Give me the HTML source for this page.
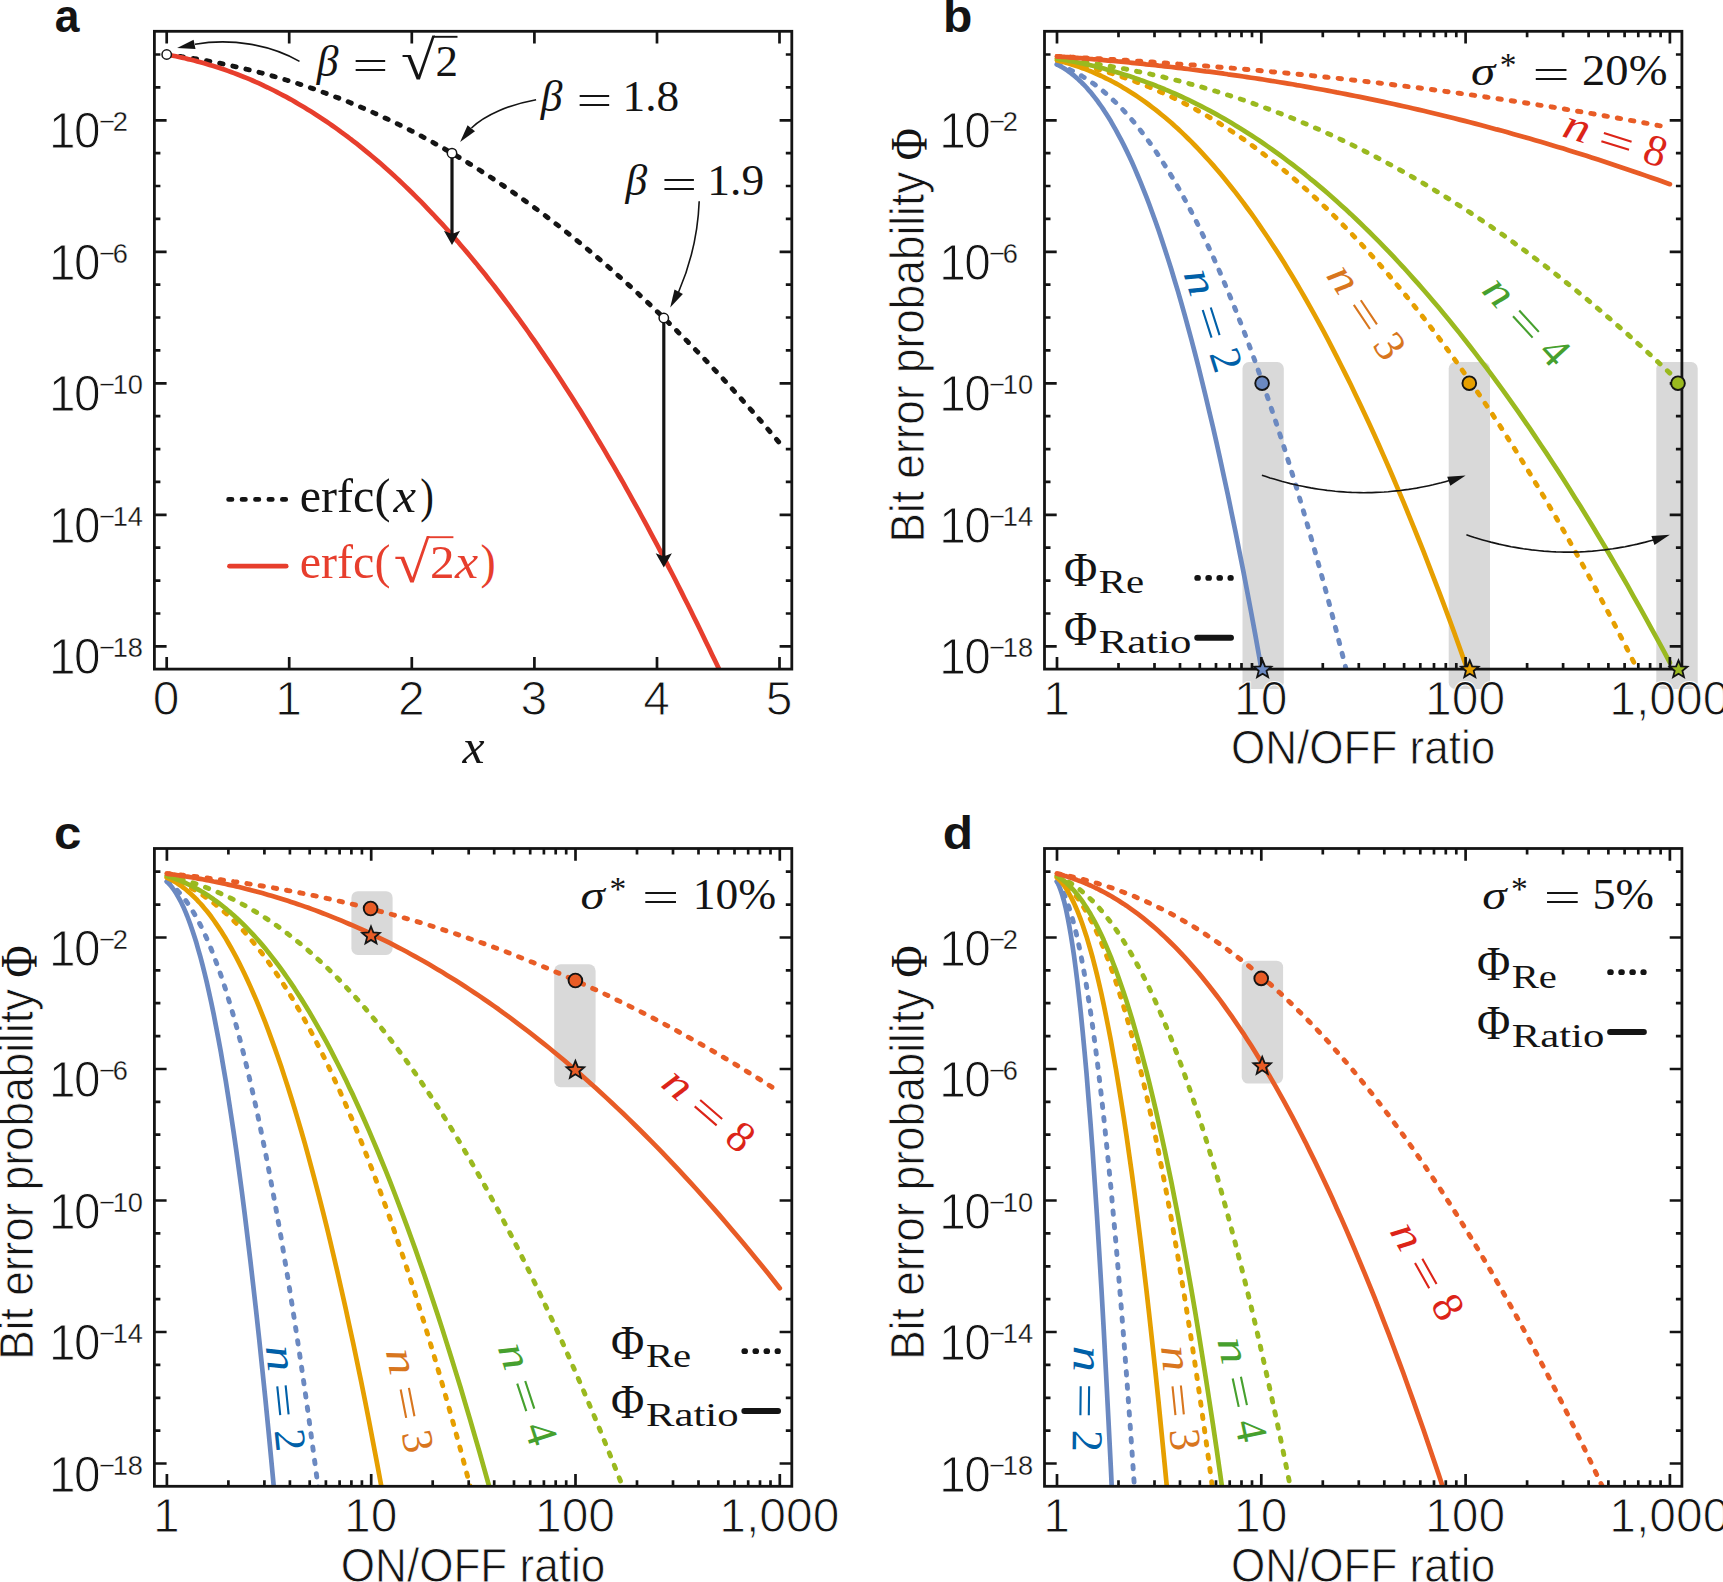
<!DOCTYPE html>
<html lang="en"><head><meta charset="utf-8"><title>Figure</title>
<style>html,body{margin:0;padding:0;background:#fff}svg{display:block}text{white-space:pre;font-kerning:none}</style>
</head><body>
<svg width="1723" height="1582" viewBox="0 0 1723 1582">
<defs>
<clipPath id="clipa"><rect x="154.4" y="31.3" width="637.4" height="637.8"/></clipPath>
<clipPath id="clipb"><rect x="1044.5" y="31.3" width="637.4" height="637.8"/></clipPath>
<clipPath id="clipc"><rect x="154.4" y="848.5" width="637.4" height="637.8"/></clipPath>
<clipPath id="clipd"><rect x="1044.5" y="848.5" width="637.4" height="637.8"/></clipPath>
</defs>
<rect width="1723" height="1582" fill="#ffffff"/>
<g clip-path="url(#clipa)" fill="none" stroke-width="4.7">
<path d="M166.7,54.5 L169.7,54.9 L172.8,55.3 L175.9,55.8 L178.9,56.2 L182,56.7 L185,57.1 L188.1,57.6 L191.2,58.1 L194.2,58.6 L197.3,59.1 L200.4,59.6 L203.4,60.2 L206.5,60.7 L209.6,61.3 L212.6,61.9 L215.7,62.5 L218.8,63.1 L221.8,63.7 L224.9,64.3 L227.9,65 L231,65.7 L234.1,66.3 L237.1,67 L240.2,67.7 L243.3,68.4 L246.3,69.2 L249.4,69.9 L252.5,70.7 L255.5,71.4 L258.6,72.2 L261.7,73 L264.7,73.9 L267.8,74.7 L270.8,75.5 L273.9,76.4 L277,77.3 L280,78.2 L283.1,79.1 L286.2,80 L289.2,80.9 L292.3,81.9 L295.4,82.8 L298.4,83.8 L301.5,84.8 L304.6,85.8 L307.6,86.8 L310.7,87.9 L313.8,88.9 L316.8,90 L319.9,91.1 L322.9,92.2 L326,93.3 L329.1,94.4 L332.1,95.6 L335.2,96.8 L338.3,97.9 L341.3,99.1 L344.4,100.4 L347.5,101.6 L350.5,102.8 L353.6,104.1 L356.7,105.4 L359.7,106.7 L362.8,108 L365.8,109.3 L368.9,110.6 L372,112 L375,113.4 L378.1,114.8 L381.2,116.2 L384.2,117.6 L387.3,119 L390.4,120.5 L393.4,121.9 L396.5,123.4 L399.6,124.9 L402.6,126.5 L405.7,128 L408.7,129.5 L411.8,131.1 L414.9,132.7 L417.9,134.3 L421,135.9 L424.1,137.6 L427.1,139.2 L430.2,140.9 L433.3,142.6 L436.3,144.3 L439.4,146 L442.5,147.7 L445.5,149.5 L448.6,151.2 L451.6,153 L454.7,154.8 L457.8,156.6 L460.8,158.5 L463.9,160.3 L467,162.2 L470,164.1 L473.1,166 L476.2,167.9 L479.2,169.8 L482.3,171.8 L485.4,173.8 L488.4,175.7 L491.5,177.7 L494.6,179.8 L497.6,181.8 L500.7,183.9 L503.7,185.9 L506.8,188 L509.9,190.1 L512.9,192.2 L516,194.4 L519.1,196.5 L522.1,198.7 L525.2,200.9 L528.3,203.1 L531.3,205.3 L534.4,207.6 L537.5,209.8 L540.5,212.1 L543.6,214.4 L546.6,216.7 L549.7,219 L552.8,221.4 L555.8,223.8 L558.9,226.1 L562,228.5 L565,230.9 L568.1,233.4 L571.2,235.8 L574.2,238.3 L577.3,240.8 L580.4,243.3 L583.4,245.8 L586.5,248.3 L589.5,250.9 L592.6,253.4 L595.7,256 L598.7,258.6 L601.8,261.2 L604.9,263.9 L607.9,266.5 L611,269.2 L614.1,271.9 L617.1,274.6 L620.2,277.3 L623.3,280.1 L626.3,282.8 L629.4,285.6 L632.4,288.4 L635.5,291.2 L638.6,294 L641.6,296.9 L644.7,299.7 L647.8,302.6 L650.8,305.5 L653.9,308.4 L657,311.4 L660,314.3 L663.1,317.3 L666.2,320.3 L669.2,323.3 L672.3,326.3 L675.4,329.3 L678.4,332.4 L681.5,335.4 L684.5,338.5 L687.6,341.6 L690.7,344.8 L693.7,347.9 L696.8,351.1 L699.9,354.2 L702.9,357.4 L706,360.6 L709.1,363.9 L712.1,367.1 L715.2,370.4 L718.3,373.6 L721.3,376.9 L724.4,380.3 L727.4,383.6 L730.5,386.9 L733.6,390.3 L736.6,393.7 L739.7,397.1 L742.8,400.5 L745.8,404 L748.9,407.4 L752,410.9 L755,414.4 L758.1,417.9 L761.2,421.4 L764.2,424.9 L767.3,428.5 L770.3,432.1 L773.4,435.7 L776.5,439.3 L779.5,442.9" stroke="#141414" stroke-width="4.9" stroke-dasharray="3.4 10.03" stroke-linecap="round"/>
<path d="M166.7,54.5 L169.7,55.1 L172.8,55.7 L175.9,56.3 L178.9,57 L182,57.6 L185,58.3 L188.1,59.1 L191.2,59.8 L194.2,60.6 L197.3,61.4 L200.4,62.2 L203.4,63.1 L206.5,64 L209.6,64.9 L212.6,65.8 L215.7,66.8 L218.8,67.8 L221.8,68.8 L224.9,69.8 L227.9,70.9 L231,72 L234.1,73.1 L237.1,74.3 L240.2,75.5 L243.3,76.7 L246.3,77.9 L249.4,79.2 L252.5,80.5 L255.5,81.9 L258.6,83.2 L261.7,84.6 L264.7,86.1 L267.8,87.5 L270.8,89 L273.9,90.5 L277,92.1 L280,93.7 L283.1,95.3 L286.2,96.9 L289.2,98.6 L292.3,100.3 L295.4,102.1 L298.4,103.9 L301.5,105.7 L304.6,107.5 L307.6,109.4 L310.7,111.3 L313.8,113.2 L316.8,115.2 L319.9,117.2 L322.9,119.2 L326,121.3 L329.1,123.4 L332.1,125.5 L335.2,127.7 L338.3,129.8 L341.3,132.1 L344.4,134.3 L347.5,136.6 L350.5,139 L353.6,141.3 L356.7,143.7 L359.7,146.1 L362.8,148.6 L365.8,151.1 L368.9,153.6 L372,156.2 L375,158.8 L378.1,161.4 L381.2,164.1 L384.2,166.8 L387.3,169.5 L390.4,172.3 L393.4,175 L396.5,177.9 L399.6,180.7 L402.6,183.6 L405.7,186.6 L408.7,189.5 L411.8,192.5 L414.9,195.6 L417.9,198.6 L421,201.7 L424.1,204.9 L427.1,208.1 L430.2,211.3 L433.3,214.5 L436.3,217.8 L439.4,221.1 L442.5,224.4 L445.5,227.8 L448.6,231.2 L451.6,234.6 L454.7,238.1 L457.8,241.6 L460.8,245.2 L463.9,248.8 L467,252.4 L470,256 L473.1,259.7 L476.2,263.4 L479.2,267.2 L482.3,271 L485.4,274.8 L488.4,278.7 L491.5,282.6 L494.6,286.5 L497.6,290.5 L500.7,294.5 L503.7,298.5 L506.8,302.6 L509.9,306.7 L512.9,310.8 L516,315 L519.1,319.2 L522.1,323.4 L525.2,327.7 L528.3,332 L531.3,336.3 L534.4,340.7 L537.5,345.1 L540.5,349.6 L543.6,354.1 L546.6,358.6 L549.7,363.1 L552.8,367.7 L555.8,372.3 L558.9,377 L562,381.7 L565,386.4 L568.1,391.2 L571.2,396 L574.2,400.8 L577.3,405.7 L580.4,410.6 L583.4,415.5 L586.5,420.5 L589.5,425.5 L592.6,430.6 L595.7,435.6 L598.7,440.8 L601.8,445.9 L604.9,451.1 L607.9,456.3 L611,461.6 L614.1,466.8 L617.1,472.2 L620.2,477.5 L623.3,482.9 L626.3,488.4 L629.4,493.8 L632.4,499.3 L635.5,504.9 L638.6,510.4 L641.6,516 L644.7,521.7 L647.8,527.3 L650.8,533.1 L653.9,538.8 L657,544.6 L660,550.4 L663.1,556.2 L666.2,562.1 L669.2,568.1 L672.3,574 L675.4,580 L678.4,586 L681.5,592.1 L684.5,598.2 L687.6,604.3 L690.7,610.5 L693.7,616.7 L696.8,622.9 L699.9,629.2 L702.9,635.5 L706,641.9 L709.1,648.2 L712.1,654.7 L715.2,661.1 L718.3,667.6 L721.3,674.1 L724.4,680.7 L727.4,687.3 L730.5,693.9 L733.6,700.6 L736.6,707.2" stroke="#e73e2d" stroke-linecap="butt"/>
</g>
<path d="M154.4,54.5L160.4,54.5M791.8,54.5L785.8,54.5M154.4,87.4L160.4,87.4M791.8,87.4L785.8,87.4M154.4,120.3L166.6,120.3M791.8,120.3L779.6,120.3M154.4,153.1L160.4,153.1M791.8,153.1L785.8,153.1M154.4,186L160.4,186M791.8,186L785.8,186M154.4,218.9L160.4,218.9M791.8,218.9L785.8,218.9M154.4,251.8L166.6,251.8M791.8,251.8L779.6,251.8M154.4,284.7L160.4,284.7M791.8,284.7L785.8,284.7M154.4,317.5L160.4,317.5M791.8,317.5L785.8,317.5M154.4,350.4L160.4,350.4M791.8,350.4L785.8,350.4M154.4,383.3L166.6,383.3M791.8,383.3L779.6,383.3M154.4,416.2L160.4,416.2M791.8,416.2L785.8,416.2M154.4,449.1L160.4,449.1M791.8,449.1L785.8,449.1M154.4,481.9L160.4,481.9M791.8,481.9L785.8,481.9M154.4,514.8L166.6,514.8M791.8,514.8L779.6,514.8M154.4,547.7L160.4,547.7M791.8,547.7L785.8,547.7M154.4,580.6L160.4,580.6M791.8,580.6L785.8,580.6M154.4,613.5L160.4,613.5M791.8,613.5L785.8,613.5M154.4,646.3L166.6,646.3M791.8,646.3L779.6,646.3M166.7,31.3L166.7,43.5M166.7,669.1L166.7,656.9M289.2,31.3L289.2,43.5M289.2,669.1L289.2,656.9M411.8,31.3L411.8,43.5M411.8,669.1L411.8,656.9M534.4,31.3L534.4,43.5M534.4,669.1L534.4,656.9M657,31.3L657,43.5M657,669.1L657,656.9M779.5,31.3L779.5,43.5M779.5,669.1L779.5,656.9" stroke="#141414" stroke-width="2.7" fill="none"/>
<rect x="154.4" y="31.3" width="637.4" height="637.8" fill="none" stroke="#141414" stroke-width="2.8"/>
<path d="M452,153.2V237.1" stroke="#141414" stroke-width="3.2" fill="none"/>
<path d="M452,245.1 L443.9,230.7 L452,234 L460.1,230.7Z" fill="#141414"/>
<path d="M663.8,318V559.6" stroke="#141414" stroke-width="3.2" fill="none"/>
<path d="M663.8,567.6 L655.7,553.2 L663.8,556.5 L671.9,553.2Z" fill="#141414"/>
<circle cx="166.7" cy="54.5" r="4.7" fill="#fff" stroke="#141414" stroke-width="1.5"/>
<circle cx="452" cy="153.2" r="4.7" fill="#fff" stroke="#141414" stroke-width="1.5"/>
<circle cx="663.8" cy="318" r="4.7" fill="#fff" stroke="#141414" stroke-width="1.5"/>
<path d="M299.5,61.4C270,44.5 231,38 195,44.3" stroke="#141414" stroke-width="1.6" fill="none"/>
<path d="M177.1,47.9 L193.6,39.7 L195.5,49.1Z" fill="#141414"/>
<path d="M536.1,99.7C509.6,104.5 485,115 471.5,128" stroke="#141414" stroke-width="1.6" fill="none"/>
<path d="M460.1,142.1 L467.6,125.2 L475,131.3Z" fill="#141414"/>
<path d="M699.2,201.2C698,232 691.5,262 678.6,292" stroke="#141414" stroke-width="1.6" fill="none"/>
<path d="M670.2,307.4 L674.5,289.5 L682.9,294Z" fill="#141414"/>
<path d="M433.9,36.8H457.5" stroke="#141414" stroke-width="1.9" fill="none"/>
<text font-family='"Liberation Serif", serif' fill="#141414"><tspan x="316.7" y="75.8" font-size="43.5" font-style="italic">β</tspan> <tspan x="352.6" y="78.8" font-size="42" textLength="35.753" lengthAdjust="spacingAndGlyphs">=</tspan> <tspan x="401.1" y="79.4" font-size="55.1" textLength="34.108" lengthAdjust="spacingAndGlyphs">√</tspan><tspan x="435.5" y="75.8" font-size="45">2</tspan></text>
<text font-family='"Liberation Serif", serif' fill="#141414"><tspan x="540.7" y="110.8" font-size="43.5" font-style="italic">β</tspan> <tspan x="576.6" y="113.8" font-size="42" textLength="35.753" lengthAdjust="spacingAndGlyphs">=</tspan> <tspan x="622.6" y="110.8" font-size="45" textLength="56.716" lengthAdjust="spacingAndGlyphs">1.8</tspan></text>
<text font-family='"Liberation Serif", serif' fill="#141414"><tspan x="625.4" y="194.9" font-size="43.5" font-style="italic">β</tspan> <tspan x="661.3" y="197.9" font-size="42" textLength="35.753" lengthAdjust="spacingAndGlyphs">=</tspan> <tspan x="707.3" y="194.9" font-size="45" textLength="56.864" lengthAdjust="spacingAndGlyphs">1.9</tspan></text>
<path d="M228.6,499.4H286" stroke="#141414" stroke-width="4.7" stroke-dasharray="3.4 10.03" stroke-linecap="round"/>
<path d="M229.5,566.2H286.2" stroke="#e73e2d" stroke-width="4.7" stroke-linecap="round"/>
<text font-family='"Liberation Serif", serif' fill="#141414"><tspan x="299.8" y="512.2" font-size="48" textLength="90.624" lengthAdjust="spacingAndGlyphs">erfc(</tspan><tspan x="393.6" y="512.2" font-size="48" font-style="italic" textLength="22.552" lengthAdjust="spacingAndGlyphs">x</tspan><tspan x="420.2" y="512.2" font-size="48" textLength="13.614" lengthAdjust="spacingAndGlyphs">)</tspan></text>
<text font-family='"Liberation Serif", serif' fill="#e73e2d"><tspan x="299.8" y="578.3" font-size="48" textLength="90.624" lengthAdjust="spacingAndGlyphs">erfc(</tspan><tspan x="393.7" y="582.2" font-size="58.2" textLength="35.997" lengthAdjust="spacingAndGlyphs">√</tspan><tspan x="430" y="578.3" font-size="47" textLength="24.571" lengthAdjust="spacingAndGlyphs">2</tspan><tspan x="455.1" y="578.3" font-size="48" font-style="italic" textLength="23.145" lengthAdjust="spacingAndGlyphs">x</tspan><tspan x="480.5" y="578.3" font-size="48" textLength="15.17" lengthAdjust="spacingAndGlyphs">)</tspan></text>
<path d="M428.4,537.2H453.4" stroke="#e73e2d" stroke-width="1.9" fill="none"/>
<text transform="translate(49.1,148.3) scale(0.955,1)" font-family='"Liberation Sans", sans-serif' font-size="50" fill="#141414" stroke="#fff" stroke-width="1.0">1<tspan dx="-1.6">0</tspan><tspan dx="-1.5 -2.6" dy="-17" font-size="28.5" stroke-width="0.3">−2</tspan></text>
<text transform="translate(49.1,279.8) scale(0.955,1)" font-family='"Liberation Sans", sans-serif' font-size="50" fill="#141414" stroke="#fff" stroke-width="1.0">1<tspan dx="-1.6">0</tspan><tspan dx="-1.5 -2.6" dy="-17" font-size="28.5" stroke-width="0.3">−6</tspan></text>
<text transform="translate(49.1,411.3) scale(0.955,1)" font-family='"Liberation Sans", sans-serif' font-size="50" fill="#141414" stroke="#fff" stroke-width="1.0">1<tspan dx="-1.6">0</tspan><tspan dx="-1.5 -2.6" dy="-17" font-size="28.5" stroke-width="0.3">−10</tspan></text>
<text transform="translate(49.1,542.8) scale(0.955,1)" font-family='"Liberation Sans", sans-serif' font-size="50" fill="#141414" stroke="#fff" stroke-width="1.0">1<tspan dx="-1.6">0</tspan><tspan dx="-1.5 -2.6" dy="-17" font-size="28.5" stroke-width="0.3">−14</tspan></text>
<text transform="translate(49.1,674.3) scale(0.955,1)" font-family='"Liberation Sans", sans-serif' font-size="50" fill="#141414" stroke="#fff" stroke-width="1.0">1<tspan dx="-1.6">0</tspan><tspan dx="-1.5 -2.6" dy="-17" font-size="28.5" stroke-width="0.3">−18</tspan></text>
<text x="166.2" y="715.2" text-anchor="middle" font-family='"Liberation Sans", sans-serif' font-size="48" fill="#141414" stroke="#fff" stroke-width="1.0">0</text>
<text x="288.7" y="715.2" text-anchor="middle" font-family='"Liberation Sans", sans-serif' font-size="48" fill="#141414" stroke="#fff" stroke-width="1.0">1</text>
<text x="411.3" y="715.2" text-anchor="middle" font-family='"Liberation Sans", sans-serif' font-size="48" fill="#141414" stroke="#fff" stroke-width="1.0">2</text>
<text x="533.9" y="715.2" text-anchor="middle" font-family='"Liberation Sans", sans-serif' font-size="48" fill="#141414" stroke="#fff" stroke-width="1.0">3</text>
<text x="656.5" y="715.2" text-anchor="middle" font-family='"Liberation Sans", sans-serif' font-size="48" fill="#141414" stroke="#fff" stroke-width="1.0">4</text>
<text x="779" y="715.2" text-anchor="middle" font-family='"Liberation Sans", sans-serif' font-size="48" fill="#141414" stroke="#fff" stroke-width="1.0">5</text>
<text transform="translate(54.8,31.8) scale(0.966,1)" font-family='"Liberation Sans", sans-serif' font-weight="bold" font-size="46" fill="#141414">a</text>
<text transform="translate(462.5,763) scale(1.014,1)" font-family='"Liberation Serif", serif' font-style="italic" font-size="49" fill="#141414">x</text>
<rect x="1242.5" y="362" width="41.3" height="327" rx="6.5" ry="6.5" fill="#d9d9d9"/>
<rect x="1448.7" y="362" width="41.3" height="327" rx="6.5" ry="6.5" fill="#d9d9d9"/>
<rect x="1656.3" y="362" width="41.4" height="327" rx="6.5" ry="6.5" fill="#d9d9d9"/>
<g clip-path="url(#clipb)" fill="none" stroke-width="4.7" stroke-linejoin="round">
<path d="M1057,64.4 L1057.2,64.5 L1057.6,64.6 L1058.1,64.8 L1058.7,65 L1059.4,65.3 L1060.2,65.6 L1061.1,65.9 L1062.1,66.3 L1063.1,66.7 L1064.3,67.2 L1065.5,67.7 L1066.7,68.2 L1068,68.8 L1069.4,69.5 L1070.9,70.2 L1072.4,70.9 L1074,71.7 L1075.6,72.5 L1077.3,73.4 L1079,74.4 L1080.8,75.4 L1082.6,76.5 L1084.5,77.7 L1086.5,78.9 L1088.4,80.2 L1090.5,81.6 L1092.6,83 L1094.7,84.5 L1096.9,86.2 L1099.1,87.9 L1101.4,89.7 L1103.7,91.6 L1106,93.6 L1108.4,95.7 L1110.9,97.9 L1113.3,100.2 L1115.9,102.6 L1118.4,105.2 L1121,107.8 L1123.7,110.6 L1126.4,113.6 L1129.1,116.6 L1131.9,119.8 L1134.7,123.1 L1137.5,126.6 L1140.4,130.2 L1143.3,134 L1146.3,138 L1149.3,142.1 L1152.3,146.3 L1155.4,150.8 L1158.5,155.4 L1161.6,160.2 L1164.8,165.2 L1168,170.3 L1171.3,175.7 L1174.5,181.2 L1177.9,187 L1181.2,192.9 L1184.6,199.1 L1188,205.4 L1191.5,212 L1195,218.8 L1198.5,225.9 L1202,233.2 L1205.6,240.7 L1209.2,248.4 L1212.9,256.4 L1216.6,264.6 L1220.3,273.1 L1224,281.9 L1227.8,290.9 L1231.6,300.2 L1235.5,309.7 L1239.3,319.5 L1243.3,329.6 L1247.2,340 L1251.2,350.7 L1255.2,361.7 L1259.2,373 L1263.2,384.5 L1267.3,396.4 L1271.4,408.6 L1275.6,421.1 L1279.8,434 L1284,447.1 L1288.2,460.6 L1292.5,474.5 L1296.8,488.7 L1301.1,503.2 L1305.5,518.1 L1309.8,533.3 L1314.3,548.9 L1318.7,564.8 L1323.2,581.2 L1327.7,597.8 L1332.2,614.9 L1336.7,632.4 L1341.3,650.2 L1345.9,668.5 L1350.6,687.1 L1355.2,706.2 L1359.9,725.6" stroke="#6b89c1" stroke-width="4.9" stroke-dasharray="3.4 10.03" stroke-linecap="round"/>
<path d="M1057,64.4 L1057.2,64.5 L1057.6,64.7 L1058.1,64.9 L1058.7,65.3 L1059.4,65.6 L1060.2,66.1 L1061.1,66.6 L1062.1,67.2 L1063.1,67.8 L1064.3,68.5 L1065.5,69.3 L1066.7,70.1 L1068,71 L1069.4,72 L1070.9,73.1 L1072.4,74.3 L1074,75.5 L1075.6,76.9 L1077.3,78.4 L1079,80 L1080.8,81.7 L1082.6,83.5 L1084.5,85.4 L1086.5,87.5 L1088.4,89.8 L1090.5,92.1 L1092.6,94.7 L1094.7,97.4 L1096.9,100.2 L1099.1,103.3 L1101.4,106.5 L1103.7,109.9 L1106,113.5 L1108.4,117.3 L1110.9,121.3 L1113.3,125.6 L1115.9,130.1 L1118.4,134.8 L1121,139.7 L1123.7,144.9 L1126.4,150.4 L1129.1,156.1 L1131.9,162.1 L1134.7,168.4 L1137.5,175 L1140.4,181.9 L1143.3,189.1 L1146.3,196.6 L1149.3,204.5 L1152.3,212.7 L1155.4,221.2 L1158.5,230 L1161.6,239.3 L1164.8,248.9 L1168,258.9 L1171.3,269.2 L1174.5,280 L1177.9,291.1 L1181.2,302.7 L1184.6,314.7 L1188,327.1 L1191.5,340 L1195,353.3 L1198.5,367 L1202,381.3 L1205.6,396 L1209.2,411.2 L1212.9,426.8 L1216.6,443 L1220.3,459.7 L1224,476.9 L1227.8,494.6 L1231.6,512.9 L1235.5,531.7 L1239.3,551.1 L1243.3,571 L1247.2,591.5 L1251.2,612.6 L1255.2,634.3 L1259.2,656.6 L1263.2,679.5 L1267.3,703 L1271.4,727.1" stroke="#6b89c1" stroke-linecap="round"/>
<path d="M1057,60.3 L1057.2,60.3 L1057.6,60.4 L1058.1,60.5 L1058.7,60.6 L1059.4,60.7 L1060.2,60.9 L1061.1,61 L1062.1,61.2 L1063.1,61.4 L1064.3,61.6 L1065.5,61.9 L1066.7,62.1 L1068,62.4 L1069.4,62.7 L1070.9,62.9 L1072.4,63.3 L1074,63.6 L1075.6,63.9 L1077.3,64.3 L1079,64.7 L1080.8,65.1 L1082.6,65.5 L1084.5,66 L1086.5,66.5 L1088.4,67 L1090.5,67.5 L1092.6,68 L1094.7,68.6 L1096.9,69.1 L1099.1,69.8 L1101.4,70.4 L1103.7,71 L1106,71.7 L1108.4,72.4 L1110.9,73.2 L1113.3,74 L1115.9,74.8 L1118.4,75.6 L1121,76.5 L1123.7,77.4 L1126.4,78.3 L1129.1,79.2 L1131.9,80.2 L1134.7,81.3 L1137.5,82.4 L1140.4,83.5 L1143.3,84.6 L1146.3,85.8 L1149.3,87 L1152.3,88.3 L1155.4,89.6 L1158.5,91 L1161.6,92.4 L1164.8,93.8 L1168,95.3 L1171.3,96.8 L1174.5,98.4 L1177.9,100 L1181.2,101.7 L1184.6,103.5 L1188,105.3 L1191.5,107.1 L1195,109 L1198.5,111 L1202,113 L1205.6,115 L1209.2,117.2 L1212.9,119.3 L1216.6,121.6 L1220.3,123.9 L1224,126.3 L1227.8,128.7 L1231.6,131.2 L1235.5,133.8 L1239.3,136.4 L1243.3,139.1 L1247.2,141.9 L1251.2,144.8 L1255.2,147.7 L1259.2,150.7 L1263.2,153.8 L1267.3,156.9 L1271.4,160.1 L1275.6,163.4 L1279.8,166.8 L1284,170.3 L1288.2,173.8 L1292.5,177.4 L1296.8,181.2 L1301.1,185 L1305.5,188.8 L1309.8,192.8 L1314.3,196.9 L1318.7,201 L1323.2,205.3 L1327.7,209.6 L1332.2,214 L1336.7,218.5 L1341.3,223.2 L1345.9,227.9 L1350.6,232.7 L1355.2,237.6 L1359.9,242.6 L1364.6,247.7 L1369.4,253 L1374.2,258.3 L1379,263.7 L1383.8,269.3 L1388.7,274.9 L1393.5,280.7 L1398.4,286.5 L1403.4,292.5 L1408.3,298.6 L1413.3,304.8 L1418.3,311.1 L1423.4,317.6 L1428.4,324.1 L1433.5,330.8 L1438.7,337.6 L1443.8,344.6 L1449,351.6 L1454.2,358.8 L1459.4,366.1 L1464.6,373.5 L1469.9,381 L1475.2,388.7 L1480.5,396.5 L1485.9,404.5 L1491.3,412.6 L1496.6,420.8 L1502.1,429.1 L1507.5,437.6 L1513,446.2 L1518.5,455 L1524,463.9 L1529.6,473 L1535.1,482.2 L1540.7,491.5 L1546.4,501 L1552,510.6 L1557.7,520.4 L1563.4,530.3 L1569.1,540.4 L1574.8,550.7 L1580.6,561.1 L1586.4,571.6 L1592.2,582.3 L1598,593.2 L1603.9,604.2 L1609.8,615.4 L1615.7,626.7 L1621.6,638.2 L1627.6,649.9 L1633.5,661.7 L1639.5,673.7 L1645.6,685.9 L1651.6,698.3 L1657.7,710.8" stroke="#e69f00" stroke-width="4.9" stroke-dasharray="3.4 10.03" stroke-linecap="round"/>
<path d="M1057,60.3 L1057.2,60.3 L1057.6,60.4 L1058.1,60.6 L1058.7,60.7 L1059.4,60.9 L1060.2,61.1 L1061.1,61.3 L1062.1,61.6 L1063.1,61.9 L1064.3,62.2 L1065.5,62.6 L1066.7,62.9 L1068,63.3 L1069.4,63.7 L1070.9,64.2 L1072.4,64.7 L1074,65.2 L1075.6,65.7 L1077.3,66.3 L1079,66.9 L1080.8,67.5 L1082.6,68.2 L1084.5,68.9 L1086.5,69.6 L1088.4,70.4 L1090.5,71.2 L1092.6,72.1 L1094.7,73 L1096.9,74 L1099.1,75 L1101.4,76 L1103.7,77.1 L1106,78.3 L1108.4,79.5 L1110.9,80.7 L1113.3,82 L1115.9,83.4 L1118.4,84.8 L1121,86.3 L1123.7,87.9 L1126.4,89.5 L1129.1,91.2 L1131.9,92.9 L1134.7,94.7 L1137.5,96.6 L1140.4,98.6 L1143.3,100.7 L1146.3,102.8 L1149.3,105 L1152.3,107.3 L1155.4,109.6 L1158.5,112.1 L1161.6,114.7 L1164.8,117.3 L1168,120 L1171.3,122.8 L1174.5,125.8 L1177.9,128.8 L1181.2,131.9 L1184.6,135.1 L1188,138.5 L1191.5,141.9 L1195,145.5 L1198.5,149.1 L1202,152.9 L1205.6,156.8 L1209.2,160.8 L1212.9,164.9 L1216.6,169.2 L1220.3,173.6 L1224,178.1 L1227.8,182.7 L1231.6,187.5 L1235.5,192.4 L1239.3,197.4 L1243.3,202.6 L1247.2,208 L1251.2,213.4 L1255.2,219 L1259.2,224.8 L1263.2,230.7 L1267.3,236.8 L1271.4,243 L1275.6,249.4 L1279.8,255.9 L1284,262.6 L1288.2,269.5 L1292.5,276.5 L1296.8,283.7 L1301.1,291.1 L1305.5,298.7 L1309.8,306.4 L1314.3,314.3 L1318.7,322.4 L1323.2,330.7 L1327.7,339.1 L1332.2,347.8 L1336.7,356.6 L1341.3,365.7 L1345.9,374.9 L1350.6,384.3 L1355.2,393.9 L1359.9,403.8 L1364.6,413.8 L1369.4,424.1 L1374.2,434.5 L1379,445.2 L1383.8,456.1 L1388.7,467.2 L1393.5,478.5 L1398.4,490.1 L1403.4,501.8 L1408.3,513.8 L1413.3,526.1 L1418.3,538.5 L1423.4,551.2 L1428.4,564.2 L1433.5,577.4 L1438.7,590.8 L1443.8,604.4 L1449,618.4 L1454.2,632.5 L1459.4,647 L1464.6,661.6 L1469.9,676.6 L1475.2,691.8 L1480.5,707.2 L1485.9,722.9" stroke="#e69f00" stroke-linecap="round"/>
<path d="M1057,58.6 L1057.2,58.6 L1057.6,58.7 L1058.1,58.7 L1058.7,58.8 L1059.4,58.9 L1060.2,59 L1061.1,59.1 L1062.1,59.2 L1063.1,59.3 L1064.3,59.5 L1065.5,59.6 L1066.7,59.8 L1068,60 L1069.4,60.1 L1070.9,60.3 L1072.4,60.5 L1074,60.7 L1075.6,61 L1077.3,61.2 L1079,61.4 L1080.8,61.7 L1082.6,61.9 L1084.5,62.2 L1086.5,62.5 L1088.4,62.8 L1090.5,63.1 L1092.6,63.4 L1094.7,63.7 L1096.9,64.1 L1099.1,64.4 L1101.4,64.8 L1103.7,65.2 L1106,65.6 L1108.4,66 L1110.9,66.4 L1113.3,66.8 L1115.9,67.3 L1118.4,67.8 L1121,68.2 L1123.7,68.7 L1126.4,69.2 L1129.1,69.8 L1131.9,70.3 L1134.7,70.9 L1137.5,71.5 L1140.4,72 L1143.3,72.7 L1146.3,73.3 L1149.3,73.9 L1152.3,74.6 L1155.4,75.3 L1158.5,76 L1161.6,76.7 L1164.8,77.5 L1168,78.2 L1171.3,79 L1174.5,79.9 L1177.9,80.7 L1181.2,81.5 L1184.6,82.4 L1188,83.3 L1191.5,84.3 L1195,85.2 L1198.5,86.2 L1202,87.2 L1205.6,88.2 L1209.2,89.3 L1212.9,90.4 L1216.6,91.5 L1220.3,92.6 L1224,93.8 L1227.8,95 L1231.6,96.2 L1235.5,97.4 L1239.3,98.7 L1243.3,100 L1247.2,101.4 L1251.2,102.7 L1255.2,104.2 L1259.2,105.6 L1263.2,107.1 L1267.3,108.6 L1271.4,110.1 L1275.6,111.7 L1279.8,113.3 L1284,114.9 L1288.2,116.6 L1292.5,118.3 L1296.8,120.1 L1301.1,121.9 L1305.5,123.7 L1309.8,125.6 L1314.3,127.5 L1318.7,129.4 L1323.2,131.4 L1327.7,133.5 L1332.2,135.5 L1336.7,137.6 L1341.3,139.8 L1345.9,142 L1350.6,144.2 L1355.2,146.5 L1359.9,148.8 L1364.6,151.2 L1369.4,153.6 L1374.2,156.1 L1379,158.6 L1383.8,161.2 L1388.7,163.8 L1393.5,166.4 L1398.4,169.1 L1403.4,171.9 L1408.3,174.7 L1413.3,177.5 L1418.3,180.4 L1423.4,183.4 L1428.4,186.4 L1433.5,189.5 L1438.7,192.6 L1443.8,195.8 L1449,199 L1454.2,202.3 L1459.4,205.6 L1464.6,209 L1469.9,212.4 L1475.2,215.9 L1480.5,219.5 L1485.9,223.1 L1491.3,226.8 L1496.6,230.5 L1502.1,234.3 L1507.5,238.2 L1513,242.1 L1518.5,246.1 L1524,250.1 L1529.6,254.2 L1535.1,258.4 L1540.7,262.6 L1546.4,266.9 L1552,271.3 L1557.7,275.7 L1563.4,280.2 L1569.1,284.8 L1574.8,289.4 L1580.6,294.1 L1586.4,298.9 L1592.2,303.7 L1598,308.6 L1603.9,313.6 L1609.8,318.7 L1615.7,323.8 L1621.6,329 L1627.6,334.2 L1633.5,339.6 L1639.5,345 L1645.6,350.5 L1651.6,356 L1657.7,361.7 L1663.8,367.4 L1669.9,373.2" stroke="#9ab91f" stroke-width="4.9" stroke-dasharray="3.4 10.03" stroke-linecap="round"/>
<path d="M1057,58.6 L1057.2,58.6 L1057.6,58.7 L1058.1,58.8 L1058.7,58.9 L1059.4,59 L1060.2,59.2 L1061.1,59.3 L1062.1,59.5 L1063.1,59.7 L1064.3,59.9 L1065.5,60.1 L1066.7,60.3 L1068,60.6 L1069.4,60.8 L1070.9,61.1 L1072.4,61.4 L1074,61.7 L1075.6,62 L1077.3,62.4 L1079,62.7 L1080.8,63.1 L1082.6,63.5 L1084.5,63.9 L1086.5,64.4 L1088.4,64.8 L1090.5,65.3 L1092.6,65.8 L1094.7,66.3 L1096.9,66.9 L1099.1,67.4 L1101.4,68 L1103.7,68.6 L1106,69.2 L1108.4,69.9 L1110.9,70.6 L1113.3,71.3 L1115.9,72 L1118.4,72.8 L1121,73.6 L1123.7,74.4 L1126.4,75.2 L1129.1,76.1 L1131.9,77 L1134.7,78 L1137.5,78.9 L1140.4,80 L1143.3,81 L1146.3,82.1 L1149.3,83.2 L1152.3,84.3 L1155.4,85.5 L1158.5,86.8 L1161.6,88 L1164.8,89.3 L1168,90.7 L1171.3,92.1 L1174.5,93.5 L1177.9,95 L1181.2,96.5 L1184.6,98.1 L1188,99.7 L1191.5,101.4 L1195,103.1 L1198.5,104.8 L1202,106.6 L1205.6,108.5 L1209.2,110.4 L1212.9,112.4 L1216.6,114.4 L1220.3,116.5 L1224,118.6 L1227.8,120.8 L1231.6,123.1 L1235.5,125.4 L1239.3,127.8 L1243.3,130.2 L1247.2,132.7 L1251.2,135.2 L1255.2,137.9 L1259.2,140.5 L1263.2,143.3 L1267.3,146.1 L1271.4,149 L1275.6,152 L1279.8,155 L1284,158.1 L1288.2,161.3 L1292.5,164.5 L1296.8,167.8 L1301.1,171.2 L1305.5,174.7 L1309.8,178.3 L1314.3,181.9 L1318.7,185.6 L1323.2,189.4 L1327.7,193.3 L1332.2,197.2 L1336.7,201.3 L1341.3,205.4 L1345.9,209.6 L1350.6,213.9 L1355.2,218.3 L1359.9,222.8 L1364.6,227.4 L1369.4,232 L1374.2,236.8 L1379,241.6 L1383.8,246.6 L1388.7,251.6 L1393.5,256.7 L1398.4,262 L1403.4,267.3 L1408.3,272.8 L1413.3,278.3 L1418.3,283.9 L1423.4,289.7 L1428.4,295.5 L1433.5,301.5 L1438.7,307.6 L1443.8,313.7 L1449,320 L1454.2,326.4 L1459.4,332.9 L1464.6,339.5 L1469.9,346.3 L1475.2,353.1 L1480.5,360.1 L1485.9,367.1 L1491.3,374.3 L1496.6,381.7 L1502.1,389.1 L1507.5,396.7 L1513,404.4 L1518.5,412.2 L1524,420.1 L1529.6,428.2 L1535.1,436.4 L1540.7,444.7 L1546.4,453.1 L1552,461.7 L1557.7,470.4 L1563.4,479.3 L1569.1,488.2 L1574.8,497.4 L1580.6,506.6 L1586.4,516 L1592.2,525.5 L1598,535.2 L1603.9,545 L1609.8,555 L1615.7,565.1 L1621.6,575.3 L1627.6,585.7 L1633.5,596.3 L1639.5,606.9 L1645.6,617.8 L1651.6,628.8 L1657.7,639.9 L1663.8,651.2 L1669.9,662.7" stroke="#9ab91f" stroke-linecap="round"/>
<path d="M1057,56.4 L1057.2,56.4 L1057.6,56.4 L1058.1,56.5 L1058.7,56.5 L1059.4,56.5 L1060.2,56.6 L1061.1,56.6 L1062.1,56.7 L1063.1,56.7 L1064.3,56.8 L1065.5,56.8 L1066.7,56.9 L1068,57 L1069.4,57 L1070.9,57.1 L1072.4,57.2 L1074,57.3 L1075.6,57.4 L1077.3,57.5 L1079,57.6 L1080.8,57.7 L1082.6,57.8 L1084.5,57.9 L1086.5,58 L1088.4,58.1 L1090.5,58.2 L1092.6,58.3 L1094.7,58.4 L1096.9,58.6 L1099.1,58.7 L1101.4,58.8 L1103.7,59 L1106,59.1 L1108.4,59.2 L1110.9,59.4 L1113.3,59.5 L1115.9,59.7 L1118.4,59.8 L1121,60 L1123.7,60.2 L1126.4,60.3 L1129.1,60.5 L1131.9,60.7 L1134.7,60.9 L1137.5,61.1 L1140.4,61.2 L1143.3,61.4 L1146.3,61.6 L1149.3,61.8 L1152.3,62 L1155.4,62.3 L1158.5,62.5 L1161.6,62.7 L1164.8,62.9 L1168,63.1 L1171.3,63.4 L1174.5,63.6 L1177.9,63.9 L1181.2,64.1 L1184.6,64.4 L1188,64.6 L1191.5,64.9 L1195,65.1 L1198.5,65.4 L1202,65.7 L1205.6,66 L1209.2,66.3 L1212.9,66.6 L1216.6,66.9 L1220.3,67.2 L1224,67.5 L1227.8,67.8 L1231.6,68.1 L1235.5,68.4 L1239.3,68.8 L1243.3,69.1 L1247.2,69.5 L1251.2,69.8 L1255.2,70.2 L1259.2,70.5 L1263.2,70.9 L1267.3,71.3 L1271.4,71.7 L1275.6,72 L1279.8,72.4 L1284,72.8 L1288.2,73.3 L1292.5,73.7 L1296.8,74.1 L1301.1,74.5 L1305.5,75 L1309.8,75.4 L1314.3,75.9 L1318.7,76.3 L1323.2,76.8 L1327.7,77.3 L1332.2,77.7 L1336.7,78.2 L1341.3,78.7 L1345.9,79.2 L1350.6,79.8 L1355.2,80.3 L1359.9,80.8 L1364.6,81.4 L1369.4,81.9 L1374.2,82.5 L1379,83 L1383.8,83.6 L1388.7,84.2 L1393.5,84.8 L1398.4,85.4 L1403.4,86 L1408.3,86.6 L1413.3,87.2 L1418.3,87.8 L1423.4,88.5 L1428.4,89.1 L1433.5,89.8 L1438.7,90.5 L1443.8,91.2 L1449,91.9 L1454.2,92.6 L1459.4,93.3 L1464.6,94 L1469.9,94.7 L1475.2,95.5 L1480.5,96.2 L1485.9,97 L1491.3,97.8 L1496.6,98.6 L1502.1,99.4 L1507.5,100.2 L1513,101 L1518.5,101.8 L1524,102.7 L1529.6,103.5 L1535.1,104.4 L1540.7,105.3 L1546.4,106.1 L1552,107 L1557.7,108 L1563.4,108.9 L1569.1,109.8 L1574.8,110.8 L1580.6,111.7 L1586.4,112.7 L1592.2,113.7 L1598,114.7 L1603.9,115.7 L1609.8,116.7 L1615.7,117.7 L1621.6,118.8 L1627.6,119.9 L1633.5,120.9 L1639.5,122 L1645.6,123.1 L1651.6,124.2 L1657.7,125.4 L1663.8,126.5 L1669.9,127.7" stroke="#e85c26" stroke-width="4.9" stroke-dasharray="3.4 10.03" stroke-linecap="round"/>
<path d="M1057,56.4 L1057.2,56.4 L1057.6,56.4 L1058.1,56.5 L1058.7,56.5 L1059.4,56.6 L1060.2,56.6 L1061.1,56.7 L1062.1,56.8 L1063.1,56.8 L1064.3,56.9 L1065.5,57 L1066.7,57.1 L1068,57.2 L1069.4,57.3 L1070.9,57.4 L1072.4,57.5 L1074,57.7 L1075.6,57.8 L1077.3,57.9 L1079,58.1 L1080.8,58.2 L1082.6,58.3 L1084.5,58.5 L1086.5,58.7 L1088.4,58.8 L1090.5,59 L1092.6,59.2 L1094.7,59.3 L1096.9,59.5 L1099.1,59.7 L1101.4,59.9 L1103.7,60.1 L1106,60.3 L1108.4,60.6 L1110.9,60.8 L1113.3,61 L1115.9,61.2 L1118.4,61.5 L1121,61.7 L1123.7,62 L1126.4,62.2 L1129.1,62.5 L1131.9,62.8 L1134.7,63.1 L1137.5,63.3 L1140.4,63.6 L1143.3,63.9 L1146.3,64.3 L1149.3,64.6 L1152.3,64.9 L1155.4,65.2 L1158.5,65.6 L1161.6,65.9 L1164.8,66.3 L1168,66.6 L1171.3,67 L1174.5,67.4 L1177.9,67.8 L1181.2,68.2 L1184.6,68.6 L1188,69 L1191.5,69.5 L1195,69.9 L1198.5,70.3 L1202,70.8 L1205.6,71.3 L1209.2,71.7 L1212.9,72.2 L1216.6,72.7 L1220.3,73.2 L1224,73.7 L1227.8,74.3 L1231.6,74.8 L1235.5,75.4 L1239.3,75.9 L1243.3,76.5 L1247.2,77.1 L1251.2,77.7 L1255.2,78.3 L1259.2,78.9 L1263.2,79.5 L1267.3,80.2 L1271.4,80.9 L1275.6,81.5 L1279.8,82.2 L1284,82.9 L1288.2,83.6 L1292.5,84.3 L1296.8,85.1 L1301.1,85.8 L1305.5,86.6 L1309.8,87.4 L1314.3,88.2 L1318.7,89 L1323.2,89.8 L1327.7,90.6 L1332.2,91.5 L1336.7,92.4 L1341.3,93.2 L1345.9,94.1 L1350.6,95.1 L1355.2,96 L1359.9,96.9 L1364.6,97.9 L1369.4,98.9 L1374.2,99.9 L1379,100.9 L1383.8,101.9 L1388.7,103 L1393.5,104 L1398.4,105.1 L1403.4,106.2 L1408.3,107.3 L1413.3,108.5 L1418.3,109.6 L1423.4,110.8 L1428.4,112 L1433.5,113.2 L1438.7,114.5 L1443.8,115.7 L1449,117 L1454.2,118.3 L1459.4,119.6 L1464.6,120.9 L1469.9,122.3 L1475.2,123.6 L1480.5,125 L1485.9,126.5 L1491.3,127.9 L1496.6,129.4 L1502.1,130.8 L1507.5,132.3 L1513,133.9 L1518.5,135.4 L1524,137 L1529.6,138.6 L1535.1,140.2 L1540.7,141.8 L1546.4,143.5 L1552,145.2 L1557.7,146.9 L1563.4,148.6 L1569.1,150.4 L1574.8,152.2 L1580.6,154 L1586.4,155.8 L1592.2,157.7 L1598,159.6 L1603.9,161.5 L1609.8,163.4 L1615.7,165.4 L1621.6,167.4 L1627.6,169.4 L1633.5,171.4 L1639.5,173.5 L1645.6,175.6 L1651.6,177.7 L1657.7,179.8 L1663.8,182 L1669.9,184.2" stroke="#e85c26" stroke-linecap="round"/>
</g>
<path d="M1044.5,54.5L1050.5,54.5M1681.9,54.5L1675.9,54.5M1044.5,87.4L1050.5,87.4M1681.9,87.4L1675.9,87.4M1044.5,120.3L1056.7,120.3M1681.9,120.3L1669.7,120.3M1044.5,153.1L1050.5,153.1M1681.9,153.1L1675.9,153.1M1044.5,186L1050.5,186M1681.9,186L1675.9,186M1044.5,218.9L1050.5,218.9M1681.9,218.9L1675.9,218.9M1044.5,251.8L1056.7,251.8M1681.9,251.8L1669.7,251.8M1044.5,284.7L1050.5,284.7M1681.9,284.7L1675.9,284.7M1044.5,317.5L1050.5,317.5M1681.9,317.5L1675.9,317.5M1044.5,350.4L1050.5,350.4M1681.9,350.4L1675.9,350.4M1044.5,383.3L1056.7,383.3M1681.9,383.3L1669.7,383.3M1044.5,416.2L1050.5,416.2M1681.9,416.2L1675.9,416.2M1044.5,449.1L1050.5,449.1M1681.9,449.1L1675.9,449.1M1044.5,481.9L1050.5,481.9M1681.9,481.9L1675.9,481.9M1044.5,514.8L1056.7,514.8M1681.9,514.8L1669.7,514.8M1044.5,547.7L1050.5,547.7M1681.9,547.7L1675.9,547.7M1044.5,580.6L1050.5,580.6M1681.9,580.6L1675.9,580.6M1044.5,613.5L1050.5,613.5M1681.9,613.5L1675.9,613.5M1044.5,646.3L1056.7,646.3M1681.9,646.3L1669.7,646.3M1057,31.3L1057,43.5M1057,669.1L1057,656.9M1118.5,31.3L1118.5,37.3M1118.5,669.1L1118.5,663.1M1154.5,31.3L1154.5,37.3M1154.5,669.1L1154.5,663.1M1180,31.3L1180,37.3M1180,669.1L1180,663.1M1199.8,31.3L1199.8,37.3M1199.8,669.1L1199.8,663.1M1216,31.3L1216,37.3M1216,669.1L1216,663.1M1229.7,31.3L1229.7,37.3M1229.7,669.1L1229.7,663.1M1241.5,31.3L1241.5,37.3M1241.5,669.1L1241.5,663.1M1252,31.3L1252,37.3M1252,669.1L1252,663.1M1261.3,31.3L1261.3,43.5M1261.3,669.1L1261.3,656.9M1322.8,31.3L1322.8,37.3M1322.8,669.1L1322.8,663.1M1358.8,31.3L1358.8,37.3M1358.8,669.1L1358.8,663.1M1384.3,31.3L1384.3,37.3M1384.3,669.1L1384.3,663.1M1404.1,31.3L1404.1,37.3M1404.1,669.1L1404.1,663.1M1420.3,31.3L1420.3,37.3M1420.3,669.1L1420.3,663.1M1434,31.3L1434,37.3M1434,669.1L1434,663.1M1445.8,31.3L1445.8,37.3M1445.8,669.1L1445.8,663.1M1456.3,31.3L1456.3,37.3M1456.3,669.1L1456.3,663.1M1465.6,31.3L1465.6,43.5M1465.6,669.1L1465.6,656.9M1527.1,31.3L1527.1,37.3M1527.1,669.1L1527.1,663.1M1563.1,31.3L1563.1,37.3M1563.1,669.1L1563.1,663.1M1588.6,31.3L1588.6,37.3M1588.6,669.1L1588.6,663.1M1608.4,31.3L1608.4,37.3M1608.4,669.1L1608.4,663.1M1624.6,31.3L1624.6,37.3M1624.6,669.1L1624.6,663.1M1638.3,31.3L1638.3,37.3M1638.3,669.1L1638.3,663.1M1650.1,31.3L1650.1,37.3M1650.1,669.1L1650.1,663.1M1660.6,31.3L1660.6,37.3M1660.6,669.1L1660.6,663.1M1669.9,31.3L1669.9,43.5M1669.9,669.1L1669.9,656.9" stroke="#141414" stroke-width="2.7" fill="none"/>
<rect x="1044.5" y="31.3" width="637.4" height="637.8" fill="none" stroke="#141414" stroke-width="2.8"/>
<text transform="translate(939.2,148.3) scale(0.955,1)" font-family='"Liberation Sans", sans-serif' font-size="50" fill="#141414" stroke="#fff" stroke-width="1.0">1<tspan dx="-1.6">0</tspan><tspan dx="-1.5 -2.6" dy="-17" font-size="28.5" stroke-width="0.3">−2</tspan></text>
<text transform="translate(939.2,279.8) scale(0.955,1)" font-family='"Liberation Sans", sans-serif' font-size="50" fill="#141414" stroke="#fff" stroke-width="1.0">1<tspan dx="-1.6">0</tspan><tspan dx="-1.5 -2.6" dy="-17" font-size="28.5" stroke-width="0.3">−6</tspan></text>
<text transform="translate(939.2,411.3) scale(0.955,1)" font-family='"Liberation Sans", sans-serif' font-size="50" fill="#141414" stroke="#fff" stroke-width="1.0">1<tspan dx="-1.6">0</tspan><tspan dx="-1.5 -2.6" dy="-17" font-size="28.5" stroke-width="0.3">−10</tspan></text>
<text transform="translate(939.2,542.8) scale(0.955,1)" font-family='"Liberation Sans", sans-serif' font-size="50" fill="#141414" stroke="#fff" stroke-width="1.0">1<tspan dx="-1.6">0</tspan><tspan dx="-1.5 -2.6" dy="-17" font-size="28.5" stroke-width="0.3">−14</tspan></text>
<text transform="translate(939.2,674.3) scale(0.955,1)" font-family='"Liberation Sans", sans-serif' font-size="50" fill="#141414" stroke="#fff" stroke-width="1.0">1<tspan dx="-1.6">0</tspan><tspan dx="-1.5 -2.6" dy="-17" font-size="28.5" stroke-width="0.3">−18</tspan></text>
<text x="1056.5" y="715.2" text-anchor="middle" font-family='"Liberation Sans", sans-serif' font-size="48" fill="#141414" stroke="#fff" stroke-width="1.0">1</text>
<text x="1260.8" y="715.2" text-anchor="middle" font-family='"Liberation Sans", sans-serif' font-size="48" fill="#141414" stroke="#fff" stroke-width="1.0">10</text>
<text x="1465.1" y="715.2" text-anchor="middle" font-family='"Liberation Sans", sans-serif' font-size="48" fill="#141414" stroke="#fff" stroke-width="1.0">100</text>
<text x="1669.4" y="715.2" text-anchor="middle" font-family='"Liberation Sans", sans-serif' font-size="48" fill="#141414" stroke="#fff" stroke-width="1.0">1,000</text>
<text transform="translate(942.9,31.8) scale(1.044,1)" font-family='"Liberation Sans", sans-serif' font-weight="bold" font-size="46" fill="#141414">b</text>
<text transform="translate(1230.9,764.3) scale(0.928,1)" font-family='"Liberation Sans", sans-serif' font-size="47.5" fill="#141414" stroke="#fff" stroke-width="0.8">ON/OFF ratio</text>
<g transform="translate(923.1,538.5) rotate(-90)" fill="#141414">
<text font-family='"Liberation Sans", sans-serif'><tspan x="-4" y="0.4" font-size="47.5" textLength="370.811" lengthAdjust="spacingAndGlyphs" stroke="#fff" stroke-width="0.8">Bit error probability</tspan> <tspan font-family='"Liberation Serif", serif'><tspan x="378.2" y="4.2" font-size="52" textLength="32.164" lengthAdjust="spacingAndGlyphs">Φ</tspan></tspan></text>
</g>
<circle cx="1262.1" cy="383.2" r="6.85" fill="#6b89c1" stroke="#141414" stroke-width="1.9"/>
<path d="M1262.6,660.3 L1265,666.3 L1271.4,666.7 L1266.5,670.9 L1268.1,677.1 L1262.6,673.7 L1257.1,677.1 L1258.7,670.9 L1253.8,666.7 L1260.2,666.3Z" fill="#6b89c1" stroke="#141414" stroke-width="1.8" stroke-linejoin="miter"/>
<circle cx="1469.3" cy="383.2" r="6.85" fill="#e69f00" stroke="#141414" stroke-width="1.9"/>
<path d="M1469.8,660.3 L1472.2,666.3 L1478.6,666.7 L1473.7,670.9 L1475.3,677.1 L1469.8,673.7 L1464.3,677.1 L1465.9,670.9 L1461,666.7 L1467.4,666.3Z" fill="#e69f00" stroke="#141414" stroke-width="1.8" stroke-linejoin="miter"/>
<circle cx="1678" cy="383.2" r="6.85" fill="#9ab91f" stroke="#141414" stroke-width="1.9"/>
<path d="M1678.5,660.3 L1681,666.3 L1687.4,666.7 L1682.4,670.9 L1684,677.1 L1678.5,673.7 L1673.1,677.1 L1674.7,670.9 L1669.7,666.7 L1676.1,666.3Z" fill="#9ab91f" stroke="#141414" stroke-width="1.8" stroke-linejoin="miter"/>
<path d="M1261.9,475.2 L1266,476.6 L1270,477.9 L1274.1,479.1 L1278.2,480.3 L1282.3,481.5 L1286.3,482.5 L1290.4,483.6 L1294.5,484.5 L1298.6,485.5 L1302.6,486.3 L1306.7,487.1 L1310.8,487.9 L1314.9,488.6 L1318.9,489.2 L1323,489.8 L1327.1,490.4 L1331.2,490.8 L1335.2,491.3 L1339.3,491.6 L1343.4,491.9 L1347.5,492.2 L1351.5,492.4 L1355.6,492.5 L1359.7,492.6 L1363.8,492.7 L1367.8,492.6 L1371.9,492.6 L1376,492.4 L1380,492.2 L1384.1,492 L1388.2,491.7 L1392.3,491.3 L1396.3,490.9 L1400.4,490.5 L1404.5,489.9 L1408.6,489.4 L1412.6,488.7 L1416.7,488.1 L1420.8,487.3 L1424.9,486.5 L1428.9,485.7 L1433,484.8 L1437.1,483.8 L1441.2,482.8 L1445.2,481.7 L1449.3,480.6" stroke="#141414" stroke-width="1.6" fill="none"/>
<path d="M1465.6,475.5 L1450.3,485.8 L1447.2,476.7Z" fill="#141414"/>
<path d="M1466.4,534.8 L1470.5,536.2 L1474.5,537.5 L1478.6,538.7 L1482.7,539.9 L1486.7,541 L1490.8,542.1 L1494.9,543.1 L1498.9,544.1 L1503,545 L1507.1,545.9 L1511.1,546.7 L1515.2,547.4 L1519.3,548.1 L1523.4,548.8 L1527.4,549.3 L1531.5,549.9 L1535.6,550.3 L1539.6,550.7 L1543.7,551.1 L1547.8,551.4 L1551.8,551.7 L1555.9,551.9 L1560,552 L1564,552.1 L1568.1,552.1 L1572.2,552.1 L1576.2,552 L1580.3,551.9 L1584.4,551.7 L1588.4,551.4 L1592.5,551.1 L1596.6,550.7 L1600.6,550.3 L1604.7,549.9 L1608.8,549.3 L1612.8,548.8 L1616.9,548.1 L1621,547.4 L1625.1,546.7 L1629.1,545.9 L1633.2,545 L1637.3,544.1 L1641.3,543.1 L1645.4,542.1 L1649.5,541 L1653.5,539.9" stroke="#141414" stroke-width="1.6" fill="none"/>
<path d="M1669.8,534.8 L1654.5,545.1 L1651.4,536Z" fill="#141414"/>
<g transform="translate(1211,322.5) rotate(72.3)" fill="#0060a8">
<text font-family='"Liberation Serif", serif'><tspan x="-54.9" y="11.5" font-size="43" font-style="italic" textLength="26.014" lengthAdjust="spacingAndGlyphs">n</tspan> <tspan x="-17.6" y="13.9" font-size="42" textLength="35.147" lengthAdjust="spacingAndGlyphs">=</tspan> <tspan x="29.2" y="11.5" font-size="44">2</tspan></text>
</g>
<g transform="translate(1365.3,314.7) rotate(56.2)" fill="#d8761e">
<text font-family='"Liberation Serif", serif'><tspan x="-54.9" y="11.5" font-size="43" font-style="italic" textLength="26.014" lengthAdjust="spacingAndGlyphs">n</tspan> <tspan x="-17.6" y="13.9" font-size="42" textLength="35.147" lengthAdjust="spacingAndGlyphs">=</tspan> <tspan x="28.8" y="11.5" font-size="44">3</tspan></text>
</g>
<g transform="translate(1526,324) rotate(47.5)" fill="#46a02e">
<text font-family='"Liberation Serif", serif'><tspan x="-54.9" y="11.5" font-size="43" font-style="italic" textLength="26.014" lengthAdjust="spacingAndGlyphs">n</tspan> <tspan x="-17.6" y="13.9" font-size="42" textLength="35.147" lengthAdjust="spacingAndGlyphs">=</tspan> <tspan x="28.9" y="11.5" font-size="44">4</tspan></text>
</g>
<g transform="translate(1616.5,141.5) rotate(17.5)" fill="#dc2418">
<text font-family='"Liberation Serif", serif'><tspan x="-54.9" y="11.5" font-size="43" font-style="italic" textLength="26.014" lengthAdjust="spacingAndGlyphs">n</tspan> <tspan x="-17.6" y="13.9" font-size="42" textLength="35.147" lengthAdjust="spacingAndGlyphs">=</tspan> <tspan x="29" y="11.5" font-size="44">8</tspan></text>
</g>
<text font-family='"Liberation Serif", serif' fill="#141414"><tspan x="1064" y="585.6" font-size="49.5" textLength="33.255" lengthAdjust="spacingAndGlyphs">Φ</tspan><tspan x="1098.8" y="593.2" font-size="33" textLength="45.288" lengthAdjust="spacingAndGlyphs">Re</tspan></text>
<path d="M1197.2,577.9h33.7" stroke="#141414" stroke-width="5.8" stroke-linecap="round" stroke-dasharray="0.8 10.25" fill="none"/>
<text font-family='"Liberation Serif", serif' fill="#141414"><tspan x="1064" y="644.9" font-size="49.5" textLength="33.255" lengthAdjust="spacingAndGlyphs">Φ</tspan><tspan x="1098.8" y="652.5" font-size="33" textLength="92.661" lengthAdjust="spacingAndGlyphs">Ratio</tspan></text>
<path d="M1197.2,637.7h33.8" stroke="#141414" stroke-width="5.9" stroke-linecap="round" fill="none"/>
<text font-family='"Liberation Serif", serif' fill="#141414"><tspan x="1470.9" y="85.3" font-size="41" font-style="italic" textLength="24.204" lengthAdjust="spacingAndGlyphs">σ</tspan><tspan x="1499.8" y="76.4" font-size="33.5">*</tspan> <tspan x="1532.4" y="87.5" font-size="42" textLength="37.207" lengthAdjust="spacingAndGlyphs">=</tspan> <tspan x="1582.1" y="85.3" font-size="45.3" textLength="85.337" lengthAdjust="spacingAndGlyphs">20%</tspan></text>
<rect x="351.4" y="891.2" width="41.2" height="63.8" rx="6.5" ry="6.5" fill="#d9d9d9"/>
<rect x="554.2" y="964.3" width="41.4" height="122.9" rx="6.5" ry="6.5" fill="#d9d9d9"/>
<g clip-path="url(#clipc)" fill="none" stroke-width="4.7" stroke-linejoin="round">
<path d="M166.9,881.6 L167.1,881.7 L167.5,882 L168,882.3 L168.6,882.8 L169.3,883.3 L170.1,883.9 L171,884.6 L172,885.4 L173,886.3 L174.2,887.4 L175.4,888.5 L176.6,889.7 L177.9,891.1 L179.3,892.6 L180.8,894.3 L182.3,896.1 L183.9,898.1 L185.5,900.2 L187.2,902.5 L188.9,905.1 L190.7,907.8 L192.5,910.8 L194.4,913.9 L196.4,917.4 L198.3,921.1 L200.4,925 L202.5,929.3 L204.6,933.8 L206.8,938.6 L209,943.8 L211.3,949.3 L213.6,955.2 L215.9,961.4 L218.3,968 L220.8,974.9 L223.2,982.3 L225.8,990.1 L228.3,998.4 L230.9,1007.1 L233.6,1016.2 L236.3,1025.9 L239,1036 L241.8,1046.7 L244.6,1057.8 L247.4,1069.5 L250.3,1081.8 L253.2,1094.6 L256.2,1108 L259.2,1122 L262.2,1136.7 L265.3,1151.9 L268.4,1167.8 L271.5,1184.4 L274.7,1201.7 L277.9,1219.6 L281.2,1238.3 L284.4,1257.6 L287.8,1277.8 L291.1,1298.6 L294.5,1320.3 L297.9,1342.7 L301.4,1366 L304.9,1390 L308.4,1414.9 L311.9,1440.7 L315.5,1467.3 L319.1,1494.8 L322.8,1523.3 L326.5,1552.6" stroke="#6b89c1" stroke-width="4.9" stroke-dasharray="3.4 10.03" stroke-linecap="round"/>
<path d="M166.9,881.6 L167.1,881.8 L167.5,882.1 L168,882.6 L168.6,883.3 L169.3,884.1 L170.1,885 L171,886.1 L172,887.3 L173,888.7 L174.2,890.3 L175.4,892.1 L176.6,894.1 L177.9,896.4 L179.3,898.9 L180.8,901.6 L182.3,904.7 L183.9,908.1 L185.5,911.9 L187.2,916 L188.9,920.5 L190.7,925.4 L192.5,930.7 L194.4,936.5 L196.4,942.8 L198.3,949.6 L200.4,956.9 L202.5,964.8 L204.6,973.3 L206.8,982.4 L209,992.2 L211.3,1002.7 L213.6,1013.8 L215.9,1025.7 L218.3,1038.3 L220.8,1051.8 L223.2,1066 L225.8,1081.1 L228.3,1097.1 L230.9,1114 L233.6,1131.8 L236.3,1150.6 L239,1170.4 L241.8,1191.2 L244.6,1213.1 L247.4,1236.1 L250.3,1260.1 L253.2,1285.3 L256.2,1311.7 L259.2,1339.3 L262.2,1368.2 L265.3,1398.3 L268.4,1429.7 L271.5,1462.4 L274.7,1496.5 L277.9,1532" stroke="#6b89c1" stroke-linecap="round"/>
<path d="M166.9,877.5 L167.1,877.6 L167.5,877.7 L168,877.9 L168.6,878.1 L169.3,878.3 L170.1,878.6 L171,878.9 L172,879.3 L173,879.7 L174.2,880.1 L175.4,880.6 L176.6,881.1 L177.9,881.7 L179.3,882.3 L180.8,883 L182.3,883.7 L183.9,884.4 L185.5,885.2 L187.2,886.1 L188.9,887 L190.7,887.9 L192.5,888.9 L194.4,890 L196.4,891.2 L198.3,892.4 L200.4,893.7 L202.5,895 L204.6,896.4 L206.8,898 L209,899.5 L211.3,901.2 L213.6,903 L215.9,904.8 L218.3,906.8 L220.8,908.8 L223.2,911 L225.8,913.2 L228.3,915.6 L230.9,918.1 L233.6,920.7 L236.3,923.4 L239,926.2 L241.8,929.1 L244.6,932.2 L247.4,935.4 L250.3,938.8 L253.2,942.3 L256.2,945.9 L259.2,949.7 L262.2,953.6 L265.3,957.7 L268.4,962 L271.5,966.4 L274.7,970.9 L277.9,975.7 L281.2,980.6 L284.4,985.7 L287.8,991 L291.1,996.5 L294.5,1002.1 L297.9,1008 L301.4,1014 L304.9,1020.3 L308.4,1026.8 L311.9,1033.4 L315.5,1040.3 L319.1,1047.4 L322.8,1054.8 L326.5,1062.3 L330.2,1070.1 L333.9,1078.2 L337.7,1086.4 L341.5,1094.9 L345.4,1103.7 L349.2,1112.7 L353.2,1122 L357.1,1131.5 L361.1,1141.3 L365.1,1151.4 L369.1,1161.7 L373.1,1172.3 L377.2,1183.2 L381.3,1194.4 L385.5,1205.9 L389.7,1217.6 L393.9,1229.7 L398.1,1242.1 L402.4,1254.7 L406.7,1267.7 L411,1281 L415.4,1294.7 L419.7,1308.6 L424.2,1322.9 L428.6,1337.5 L433.1,1352.5 L437.6,1367.8 L442.1,1383.4 L446.6,1399.4 L451.2,1415.7 L455.8,1432.5 L460.5,1449.5 L465.1,1467 L469.8,1484.8 L474.5,1503 L479.3,1521.6 L484.1,1540.5" stroke="#e69f00" stroke-width="4.9" stroke-dasharray="3.4 10.03" stroke-linecap="round"/>
<path d="M166.9,877.5 L167.1,877.6 L167.5,877.8 L168,878 L168.6,878.3 L169.3,878.7 L170.1,879.1 L171,879.6 L172,880.1 L173,880.7 L174.2,881.4 L175.4,882.1 L176.6,882.9 L177.9,883.8 L179.3,884.7 L180.8,885.7 L182.3,886.8 L183.9,888 L185.5,889.3 L187.2,890.7 L188.9,892.2 L190.7,893.8 L192.5,895.5 L194.4,897.3 L196.4,899.2 L198.3,901.3 L200.4,903.5 L202.5,905.9 L204.6,908.4 L206.8,911 L209,913.8 L211.3,916.8 L213.6,920 L215.9,923.3 L218.3,926.8 L220.8,930.6 L223.2,934.5 L225.8,938.6 L228.3,943 L230.9,947.5 L233.6,952.3 L236.3,957.4 L239,962.6 L241.8,968.2 L244.6,974 L247.4,980 L250.3,986.4 L253.2,993 L256.2,999.9 L259.2,1007.1 L262.2,1014.6 L265.3,1022.4 L268.4,1030.6 L271.5,1039.1 L274.7,1047.9 L277.9,1057 L281.2,1066.5 L284.4,1076.4 L287.8,1086.7 L291.1,1097.3 L294.5,1108.3 L297.9,1119.7 L301.4,1131.5 L304.9,1143.7 L308.4,1156.3 L311.9,1169.3 L315.5,1182.8 L319.1,1196.7 L322.8,1211.1 L326.5,1225.9 L330.2,1241.2 L333.9,1257 L337.7,1273.2 L341.5,1289.9 L345.4,1307.2 L349.2,1324.9 L353.2,1343.2 L357.1,1362 L361.1,1381.3 L365.1,1401.1 L369.1,1421.5 L373.1,1442.5 L377.2,1464 L381.3,1486.1 L385.5,1508.8 L389.7,1532.1" stroke="#e69f00" stroke-linecap="round"/>
<path d="M166.9,875.8 L167.1,875.8 L167.5,875.9 L168,876 L168.6,876.2 L169.3,876.4 L170.1,876.5 L171,876.8 L172,877 L173,877.3 L174.2,877.5 L175.4,877.8 L176.6,878.2 L177.9,878.5 L179.3,878.9 L180.8,879.3 L182.3,879.7 L183.9,880.1 L185.5,880.6 L187.2,881.1 L188.9,881.6 L190.7,882.2 L192.5,882.8 L194.4,883.4 L196.4,884 L198.3,884.7 L200.4,885.4 L202.5,886.2 L204.6,887 L206.8,887.8 L209,888.7 L211.3,889.6 L213.6,890.5 L215.9,891.5 L218.3,892.5 L220.8,893.6 L223.2,894.7 L225.8,895.8 L228.3,897 L230.9,898.3 L233.6,899.6 L236.3,901 L239,902.4 L241.8,903.9 L244.6,905.4 L247.4,907 L250.3,908.7 L253.2,910.4 L256.2,912.2 L259.2,914 L262.2,915.9 L265.3,917.9 L268.4,919.9 L271.5,922.1 L274.7,924.3 L277.9,926.5 L281.2,928.9 L284.4,931.3 L287.8,933.8 L291.1,936.4 L294.5,939.1 L297.9,941.8 L301.4,944.7 L304.9,947.6 L308.4,950.6 L311.9,953.8 L315.5,957 L319.1,960.3 L322.8,963.7 L326.5,967.2 L330.2,970.8 L333.9,974.5 L337.7,978.3 L341.5,982.3 L345.4,986.3 L349.2,990.5 L353.2,994.7 L357.1,999.1 L361.1,1003.6 L365.1,1008.2 L369.1,1012.9 L373.1,1017.8 L377.2,1022.8 L381.3,1027.9 L385.5,1033.1 L389.7,1038.5 L393.9,1044 L398.1,1049.6 L402.4,1055.3 L406.7,1061.2 L411,1067.3 L415.4,1073.5 L419.7,1079.8 L424.2,1086.3 L428.6,1092.9 L433.1,1099.7 L437.6,1106.6 L442.1,1113.6 L446.6,1120.9 L451.2,1128.3 L455.8,1135.8 L460.5,1143.5 L465.1,1151.4 L469.8,1159.4 L474.5,1167.6 L479.3,1176 L484.1,1184.5 L488.9,1193.2 L493.7,1202.1 L498.6,1211.2 L503.4,1220.4 L508.3,1229.9 L513.3,1239.5 L518.2,1249.3 L523.2,1259.3 L528.2,1269.4 L533.3,1279.8 L538.3,1290.4 L543.4,1301.1 L548.6,1312.1 L553.7,1323.2 L558.9,1334.6 L564.1,1346.1 L569.3,1357.9 L574.5,1369.8 L579.8,1382 L585.1,1394.4 L590.4,1407 L595.8,1419.8 L601.2,1432.9 L606.5,1446.1 L612,1459.6 L617.4,1473.3 L622.9,1487.2 L628.4,1501.4 L633.9,1515.8 L639.5,1530.4" stroke="#9ab91f" stroke-width="4.9" stroke-dasharray="3.4 10.03" stroke-linecap="round"/>
<path d="M166.9,875.8 L167.1,875.9 L167.5,876 L168,876.1 L168.6,876.3 L169.3,876.6 L170.1,876.9 L171,877.2 L172,877.5 L173,877.9 L174.2,878.3 L175.4,878.8 L176.6,879.2 L177.9,879.8 L179.3,880.3 L180.8,880.9 L182.3,881.6 L183.9,882.3 L185.5,883 L187.2,883.8 L188.9,884.6 L190.7,885.5 L192.5,886.4 L194.4,887.4 L196.4,888.5 L198.3,889.6 L200.4,890.8 L202.5,892 L204.6,893.3 L206.8,894.7 L209,896.1 L211.3,897.7 L213.6,899.3 L215.9,901 L218.3,902.7 L220.8,904.6 L223.2,906.5 L225.8,908.6 L228.3,910.7 L230.9,912.9 L233.6,915.3 L236.3,917.7 L239,920.3 L241.8,922.9 L244.6,925.7 L247.4,928.6 L250.3,931.6 L253.2,934.7 L256.2,938 L259.2,941.4 L262.2,944.9 L265.3,948.6 L268.4,952.4 L271.5,956.4 L274.7,960.5 L277.9,964.7 L281.2,969.2 L284.4,973.7 L287.8,978.5 L291.1,983.4 L294.5,988.4 L297.9,993.7 L301.4,999.1 L304.9,1004.7 L308.4,1010.4 L311.9,1016.4 L315.5,1022.6 L319.1,1028.9 L322.8,1035.5 L326.5,1042.2 L330.2,1049.2 L333.9,1056.3 L337.7,1063.7 L341.5,1071.3 L345.4,1079.1 L349.2,1087.2 L353.2,1095.4 L357.1,1103.9 L361.1,1112.7 L365.1,1121.7 L369.1,1130.9 L373.1,1140.3 L377.2,1150 L381.3,1160 L385.5,1170.2 L389.7,1180.7 L393.9,1191.5 L398.1,1202.5 L402.4,1213.8 L406.7,1225.4 L411,1237.2 L415.4,1249.4 L419.7,1261.8 L424.2,1274.5 L428.6,1287.5 L433.1,1300.9 L437.6,1314.5 L442.1,1328.4 L446.6,1342.6 L451.2,1357.2 L455.8,1372.1 L460.5,1387.3 L465.1,1402.8 L469.8,1418.7 L474.5,1434.9 L479.3,1451.4 L484.1,1468.3 L488.9,1485.5 L493.7,1503.1 L498.6,1521 L503.4,1539.3" stroke="#9ab91f" stroke-linecap="round"/>
<path d="M166.9,873.6 L167.1,873.6 L167.5,873.7 L168,873.7 L168.6,873.8 L169.3,873.8 L170.1,873.9 L171,874 L172,874.1 L173,874.2 L174.2,874.3 L175.4,874.4 L176.6,874.6 L177.9,874.7 L179.3,874.9 L180.8,875 L182.3,875.2 L183.9,875.3 L185.5,875.5 L187.2,875.7 L188.9,875.9 L190.7,876.1 L192.5,876.3 L194.4,876.5 L196.4,876.7 L198.3,877 L200.4,877.2 L202.5,877.5 L204.6,877.7 L206.8,878 L209,878.3 L211.3,878.5 L213.6,878.8 L215.9,879.1 L218.3,879.5 L220.8,879.8 L223.2,880.1 L225.8,880.5 L228.3,880.8 L230.9,881.2 L233.6,881.6 L236.3,881.9 L239,882.3 L241.8,882.8 L244.6,883.2 L247.4,883.6 L250.3,884.1 L253.2,884.5 L256.2,885 L259.2,885.5 L262.2,886 L265.3,886.5 L268.4,887 L271.5,887.5 L274.7,888.1 L277.9,888.7 L281.2,889.2 L284.4,889.8 L287.8,890.5 L291.1,891.1 L294.5,891.7 L297.9,892.4 L301.4,893.1 L304.9,893.8 L308.4,894.5 L311.9,895.2 L315.5,895.9 L319.1,896.7 L322.8,897.5 L326.5,898.3 L330.2,899.1 L333.9,899.9 L337.7,900.8 L341.5,901.7 L345.4,902.6 L349.2,903.5 L353.2,904.4 L357.1,905.4 L361.1,906.3 L365.1,907.3 L369.1,908.4 L373.1,909.4 L377.2,910.5 L381.3,911.6 L385.5,912.7 L389.7,913.8 L393.9,915 L398.1,916.2 L402.4,917.4 L406.7,918.6 L411,919.9 L415.4,921.1 L419.7,922.4 L424.2,923.8 L428.6,925.1 L433.1,926.5 L437.6,928 L442.1,929.4 L446.6,930.9 L451.2,932.4 L455.8,933.9 L460.5,935.5 L465.1,937 L469.8,938.7 L474.5,940.3 L479.3,942 L484.1,943.7 L488.9,945.4 L493.7,947.2 L498.6,949 L503.4,950.8 L508.3,952.7 L513.3,954.6 L518.2,956.6 L523.2,958.5 L528.2,960.5 L533.3,962.6 L538.3,964.6 L543.4,966.7 L548.6,968.9 L553.7,971.1 L558.9,973.3 L564.1,975.5 L569.3,977.8 L574.5,980.1 L579.8,982.5 L585.1,984.9 L590.4,987.4 L595.8,989.8 L601.2,992.4 L606.5,994.9 L612,997.5 L617.4,1000.2 L622.9,1002.8 L628.4,1005.6 L633.9,1008.3 L639.5,1011.1 L645,1014 L650.6,1016.9 L656.3,1019.8 L661.9,1022.8 L667.6,1025.8 L673.3,1028.9 L679,1032 L684.7,1035.2 L690.5,1038.4 L696.3,1041.6 L702.1,1044.9 L707.9,1048.2 L713.8,1051.6 L719.7,1055.1 L725.6,1058.6 L731.5,1062.1 L737.5,1065.7 L743.4,1069.3 L749.4,1073 L755.5,1076.7 L761.5,1080.5 L767.6,1084.3 L773.7,1088.2 L779.8,1092.1" stroke="#e85c26" stroke-width="4.9" stroke-dasharray="3.4 10.03" stroke-linecap="round"/>
<path d="M166.9,873.6 L167.1,873.6 L167.5,873.7 L168,873.8 L168.6,873.8 L169.3,873.9 L170.1,874 L171,874.2 L172,874.3 L173,874.5 L174.2,874.6 L175.4,874.8 L176.6,875 L177.9,875.2 L179.3,875.4 L180.8,875.6 L182.3,875.9 L183.9,876.1 L185.5,876.4 L187.2,876.6 L188.9,876.9 L190.7,877.2 L192.5,877.5 L194.4,877.9 L196.4,878.2 L198.3,878.6 L200.4,878.9 L202.5,879.3 L204.6,879.7 L206.8,880.1 L209,880.5 L211.3,881 L213.6,881.5 L215.9,881.9 L218.3,882.4 L220.8,882.9 L223.2,883.5 L225.8,884 L228.3,884.6 L230.9,885.2 L233.6,885.8 L236.3,886.4 L239,887.1 L241.8,887.8 L244.6,888.5 L247.4,889.2 L250.3,889.9 L253.2,890.7 L256.2,891.5 L259.2,892.3 L262.2,893.1 L265.3,894 L268.4,894.9 L271.5,895.8 L274.7,896.7 L277.9,897.7 L281.2,898.7 L284.4,899.7 L287.8,900.8 L291.1,901.9 L294.5,903 L297.9,904.2 L301.4,905.4 L304.9,906.6 L308.4,907.8 L311.9,909.1 L315.5,910.4 L319.1,911.8 L322.8,913.2 L326.5,914.6 L330.2,916.1 L333.9,917.6 L337.7,919.1 L341.5,920.7 L345.4,922.3 L349.2,924 L353.2,925.7 L357.1,927.4 L361.1,929.2 L365.1,931 L369.1,932.9 L373.1,934.8 L377.2,936.8 L381.3,938.8 L385.5,940.8 L389.7,942.9 L393.9,945.1 L398.1,947.3 L402.4,949.5 L406.7,951.8 L411,954.2 L415.4,956.6 L419.7,959 L424.2,961.5 L428.6,964.1 L433.1,966.7 L437.6,969.4 L442.1,972.1 L446.6,974.9 L451.2,977.7 L455.8,980.6 L460.5,983.5 L465.1,986.5 L469.8,989.6 L474.5,992.7 L479.3,995.9 L484.1,999.2 L488.9,1002.5 L493.7,1005.9 L498.6,1009.3 L503.4,1012.9 L508.3,1016.4 L513.3,1020.1 L518.2,1023.8 L523.2,1027.6 L528.2,1031.4 L533.3,1035.3 L538.3,1039.3 L543.4,1043.4 L548.6,1047.5 L553.7,1051.7 L558.9,1056 L564.1,1060.3 L569.3,1064.8 L574.5,1069.3 L579.8,1073.8 L585.1,1078.5 L590.4,1083.2 L595.8,1088 L601.2,1092.9 L606.5,1097.9 L612,1103 L617.4,1108.1 L622.9,1113.3 L628.4,1118.6 L633.9,1124 L639.5,1129.5 L645,1135 L650.6,1140.7 L656.3,1146.4 L661.9,1152.2 L667.6,1158.1 L673.3,1164.1 L679,1170.2 L684.7,1176.4 L690.5,1182.6 L696.3,1189 L702.1,1195.5 L707.9,1202 L713.8,1208.6 L719.7,1215.4 L725.6,1222.2 L731.5,1229.2 L737.5,1236.2 L743.4,1243.3 L749.4,1250.5 L755.5,1257.9 L761.5,1265.3 L767.6,1272.8 L773.7,1280.5 L779.8,1288.2" stroke="#e85c26" stroke-linecap="round"/>
</g>
<path d="M154.4,871.7L160.4,871.7M791.8,871.7L785.8,871.7M154.4,904.6L160.4,904.6M791.8,904.6L785.8,904.6M154.4,937.5L166.6,937.5M791.8,937.5L779.6,937.5M154.4,970.3L160.4,970.3M791.8,970.3L785.8,970.3M154.4,1003.2L160.4,1003.2M791.8,1003.2L785.8,1003.2M154.4,1036.1L160.4,1036.1M791.8,1036.1L785.8,1036.1M154.4,1069L166.6,1069M791.8,1069L779.6,1069M154.4,1101.9L160.4,1101.9M791.8,1101.9L785.8,1101.9M154.4,1134.7L160.4,1134.7M791.8,1134.7L785.8,1134.7M154.4,1167.6L160.4,1167.6M791.8,1167.6L785.8,1167.6M154.4,1200.5L166.6,1200.5M791.8,1200.5L779.6,1200.5M154.4,1233.4L160.4,1233.4M791.8,1233.4L785.8,1233.4M154.4,1266.3L160.4,1266.3M791.8,1266.3L785.8,1266.3M154.4,1299.1L160.4,1299.1M791.8,1299.1L785.8,1299.1M154.4,1332L166.6,1332M791.8,1332L779.6,1332M154.4,1364.9L160.4,1364.9M791.8,1364.9L785.8,1364.9M154.4,1397.8L160.4,1397.8M791.8,1397.8L785.8,1397.8M154.4,1430.7L160.4,1430.7M791.8,1430.7L785.8,1430.7M154.4,1463.5L166.6,1463.5M791.8,1463.5L779.6,1463.5M166.9,848.5L166.9,860.7M166.9,1486.3L166.9,1474.1M228.4,848.5L228.4,854.5M228.4,1486.3L228.4,1480.3M264.4,848.5L264.4,854.5M264.4,1486.3L264.4,1480.3M289.9,848.5L289.9,854.5M289.9,1486.3L289.9,1480.3M309.7,848.5L309.7,854.5M309.7,1486.3L309.7,1480.3M325.9,848.5L325.9,854.5M325.9,1486.3L325.9,1480.3M339.6,848.5L339.6,854.5M339.6,1486.3L339.6,1480.3M351.4,848.5L351.4,854.5M351.4,1486.3L351.4,1480.3M361.9,848.5L361.9,854.5M361.9,1486.3L361.9,1480.3M371.2,848.5L371.2,860.7M371.2,1486.3L371.2,1474.1M432.7,848.5L432.7,854.5M432.7,1486.3L432.7,1480.3M468.7,848.5L468.7,854.5M468.7,1486.3L468.7,1480.3M494.2,848.5L494.2,854.5M494.2,1486.3L494.2,1480.3M514,848.5L514,854.5M514,1486.3L514,1480.3M530.2,848.5L530.2,854.5M530.2,1486.3L530.2,1480.3M543.9,848.5L543.9,854.5M543.9,1486.3L543.9,1480.3M555.7,848.5L555.7,854.5M555.7,1486.3L555.7,1480.3M566.2,848.5L566.2,854.5M566.2,1486.3L566.2,1480.3M575.5,848.5L575.5,860.7M575.5,1486.3L575.5,1474.1M637,848.5L637,854.5M637,1486.3L637,1480.3M673,848.5L673,854.5M673,1486.3L673,1480.3M698.5,848.5L698.5,854.5M698.5,1486.3L698.5,1480.3M718.3,848.5L718.3,854.5M718.3,1486.3L718.3,1480.3M734.5,848.5L734.5,854.5M734.5,1486.3L734.5,1480.3M748.2,848.5L748.2,854.5M748.2,1486.3L748.2,1480.3M760,848.5L760,854.5M760,1486.3L760,1480.3M770.5,848.5L770.5,854.5M770.5,1486.3L770.5,1480.3M779.8,848.5L779.8,860.7M779.8,1486.3L779.8,1474.1" stroke="#141414" stroke-width="2.7" fill="none"/>
<rect x="154.4" y="848.5" width="637.4" height="637.8" fill="none" stroke="#141414" stroke-width="2.8"/>
<text transform="translate(49.1,965.5) scale(0.955,1)" font-family='"Liberation Sans", sans-serif' font-size="50" fill="#141414" stroke="#fff" stroke-width="1.0">1<tspan dx="-1.6">0</tspan><tspan dx="-1.5 -2.6" dy="-17" font-size="28.5" stroke-width="0.3">−2</tspan></text>
<text transform="translate(49.1,1097) scale(0.955,1)" font-family='"Liberation Sans", sans-serif' font-size="50" fill="#141414" stroke="#fff" stroke-width="1.0">1<tspan dx="-1.6">0</tspan><tspan dx="-1.5 -2.6" dy="-17" font-size="28.5" stroke-width="0.3">−6</tspan></text>
<text transform="translate(49.1,1228.5) scale(0.955,1)" font-family='"Liberation Sans", sans-serif' font-size="50" fill="#141414" stroke="#fff" stroke-width="1.0">1<tspan dx="-1.6">0</tspan><tspan dx="-1.5 -2.6" dy="-17" font-size="28.5" stroke-width="0.3">−10</tspan></text>
<text transform="translate(49.1,1360) scale(0.955,1)" font-family='"Liberation Sans", sans-serif' font-size="50" fill="#141414" stroke="#fff" stroke-width="1.0">1<tspan dx="-1.6">0</tspan><tspan dx="-1.5 -2.6" dy="-17" font-size="28.5" stroke-width="0.3">−14</tspan></text>
<text transform="translate(49.1,1491.5) scale(0.955,1)" font-family='"Liberation Sans", sans-serif' font-size="50" fill="#141414" stroke="#fff" stroke-width="1.0">1<tspan dx="-1.6">0</tspan><tspan dx="-1.5 -2.6" dy="-17" font-size="28.5" stroke-width="0.3">−18</tspan></text>
<text x="166.4" y="1532.4" text-anchor="middle" font-family='"Liberation Sans", sans-serif' font-size="48" fill="#141414" stroke="#fff" stroke-width="1.0">1</text>
<text x="370.7" y="1532.4" text-anchor="middle" font-family='"Liberation Sans", sans-serif' font-size="48" fill="#141414" stroke="#fff" stroke-width="1.0">10</text>
<text x="575" y="1532.4" text-anchor="middle" font-family='"Liberation Sans", sans-serif' font-size="48" fill="#141414" stroke="#fff" stroke-width="1.0">100</text>
<text x="779.3" y="1532.4" text-anchor="middle" font-family='"Liberation Sans", sans-serif' font-size="48" fill="#141414" stroke="#fff" stroke-width="1.0">1,000</text>
<text transform="translate(54.1,849) scale(1.07,1)" font-family='"Liberation Sans", sans-serif' font-weight="bold" font-size="46" fill="#141414">c</text>
<text transform="translate(340.8,1581.5) scale(0.928,1)" font-family='"Liberation Sans", sans-serif' font-size="47.5" fill="#141414" stroke="#fff" stroke-width="0.8">ON/OFF ratio</text>
<g transform="translate(33,1355.7) rotate(-90)" fill="#141414">
<text font-family='"Liberation Sans", sans-serif'><tspan x="-4" y="0.4" font-size="47.5" textLength="370.811" lengthAdjust="spacingAndGlyphs" stroke="#fff" stroke-width="0.8">Bit error probability</tspan> <tspan font-family='"Liberation Serif", serif'><tspan x="378.2" y="4.2" font-size="52" textLength="32.164" lengthAdjust="spacingAndGlyphs">Φ</tspan></tspan></text>
</g>
<circle cx="370.6" cy="908.5" r="6.85" fill="#e85c26" stroke="#141414" stroke-width="1.9"/>
<path d="M371,926.5 L373.4,932.5 L379.8,932.9 L374.9,937.1 L376.5,943.3 L371,939.9 L365.5,943.3 L367.1,937.1 L362.2,932.9 L368.6,932.5Z" fill="#e85c26" stroke="#141414" stroke-width="1.8" stroke-linejoin="miter"/>
<circle cx="575.4" cy="980.5" r="6.85" fill="#e85c26" stroke="#141414" stroke-width="1.9"/>
<path d="M575.4,1060.9 L577.8,1066.9 L584.2,1067.3 L579.3,1071.5 L580.9,1077.7 L575.4,1074.3 L569.9,1077.7 L571.5,1071.5 L566.6,1067.3 L573,1066.9Z" fill="#e85c26" stroke="#141414" stroke-width="1.8" stroke-linejoin="miter"/>
<g transform="translate(282.9,1400.2) rotate(84.1)" fill="#0060a8">
<text font-family='"Liberation Serif", serif'><tspan x="-54.9" y="11.5" font-size="43" font-style="italic" textLength="26.014" lengthAdjust="spacingAndGlyphs">n</tspan> <tspan x="-17.6" y="13.9" font-size="42" textLength="35.147" lengthAdjust="spacingAndGlyphs">=</tspan> <tspan x="29.2" y="11.5" font-size="44">2</tspan></text>
</g>
<g transform="translate(407.4,1402.9) rotate(79)" fill="#d8761e">
<text font-family='"Liberation Serif", serif'><tspan x="-54.9" y="11.5" font-size="43" font-style="italic" textLength="26.014" lengthAdjust="spacingAndGlyphs">n</tspan> <tspan x="-17.6" y="13.9" font-size="42" textLength="35.147" lengthAdjust="spacingAndGlyphs">=</tspan> <tspan x="28.8" y="11.5" font-size="44">3</tspan></text>
</g>
<g transform="translate(525.6,1396.2) rotate(71.8)" fill="#46a02e">
<text font-family='"Liberation Serif", serif'><tspan x="-54.9" y="11.5" font-size="43" font-style="italic" textLength="26.014" lengthAdjust="spacingAndGlyphs">n</tspan> <tspan x="-17.6" y="13.9" font-size="42" textLength="35.147" lengthAdjust="spacingAndGlyphs">=</tspan> <tspan x="28.9" y="11.5" font-size="44">4</tspan></text>
</g>
<g transform="translate(708.5,1112.8) rotate(40.8)" fill="#dc2418">
<text font-family='"Liberation Serif", serif'><tspan x="-54.9" y="11.5" font-size="43" font-style="italic" textLength="26.014" lengthAdjust="spacingAndGlyphs">n</tspan> <tspan x="-17.6" y="13.9" font-size="42" textLength="35.147" lengthAdjust="spacingAndGlyphs">=</tspan> <tspan x="29" y="11.5" font-size="44">8</tspan></text>
</g>
<text font-family='"Liberation Serif", serif' fill="#141414"><tspan x="611.1" y="1358.9" font-size="49.5" textLength="33.255" lengthAdjust="spacingAndGlyphs">Φ</tspan><tspan x="645.9" y="1366.5" font-size="33" textLength="45.288" lengthAdjust="spacingAndGlyphs">Re</tspan></text>
<path d="M744.3,1351.2h33.7" stroke="#141414" stroke-width="5.8" stroke-linecap="round" stroke-dasharray="0.8 10.25" fill="none"/>
<text font-family='"Liberation Serif", serif' fill="#141414"><tspan x="611.1" y="1418.2" font-size="49.5" textLength="33.255" lengthAdjust="spacingAndGlyphs">Φ</tspan><tspan x="645.9" y="1425.8" font-size="33" textLength="92.661" lengthAdjust="spacingAndGlyphs">Ratio</tspan></text>
<path d="M744.3,1411h33.8" stroke="#141414" stroke-width="5.9" stroke-linecap="round" fill="none"/>
<text font-family='"Liberation Serif", serif' fill="#141414"><tspan x="580.6" y="909.1" font-size="41" font-style="italic" textLength="24.204" lengthAdjust="spacingAndGlyphs">σ</tspan><tspan x="609.5" y="900.2" font-size="33.5">*</tspan> <tspan x="642.1" y="911.3" font-size="42" textLength="37.207" lengthAdjust="spacingAndGlyphs">=</tspan> <tspan x="692.8" y="909.1" font-size="45.3" textLength="83.458" lengthAdjust="spacingAndGlyphs">10%</tspan></text>
<rect x="1241.7" y="960.7" width="41.4" height="122.9" rx="6.5" ry="6.5" fill="#d9d9d9"/>
<g clip-path="url(#clipd)" fill="none" stroke-width="4.7" stroke-linejoin="round">
<path d="M1057,881.6 L1057.2,881.8 L1057.6,882.3 L1058.1,883.1 L1058.7,884 L1059.4,885.1 L1060.2,886.5 L1061.1,888.1 L1062.1,889.9 L1063.1,892.1 L1064.3,894.6 L1065.5,897.5 L1066.7,900.7 L1068,904.4 L1069.4,908.6 L1070.9,913.3 L1072.4,918.5 L1074,924.4 L1075.6,930.8 L1077.3,938 L1079,945.9 L1080.8,954.6 L1082.6,964.2 L1084.5,974.6 L1086.5,986 L1088.4,998.3 L1090.5,1011.7 L1092.6,1026.2 L1094.7,1041.8 L1096.9,1058.6 L1099.1,1076.7 L1101.4,1096.1 L1103.7,1116.8 L1106,1138.9 L1108.4,1162.5 L1110.9,1187.6 L1113.3,1214.3 L1115.9,1242.6 L1118.4,1272.6 L1121,1304.4 L1123.7,1337.9 L1126.4,1373.3 L1129.1,1410.6 L1131.9,1449.8 L1134.7,1491.1 L1137.5,1534.5" stroke="#6b89c1" stroke-width="4.9" stroke-dasharray="3.4 10.03" stroke-linecap="round"/>
<path d="M1057,881.6 L1057.2,881.9 L1057.6,882.7 L1058.1,883.7 L1058.7,885.1 L1059.4,886.8 L1060.2,888.9 L1061.1,891.4 L1062.1,894.4 L1063.1,898 L1064.3,902.2 L1065.5,907.1 L1066.7,912.8 L1068,919.3 L1069.4,926.8 L1070.9,935.3 L1072.4,944.9 L1074,955.7 L1075.6,967.8 L1077.3,981.3 L1079,996.2 L1080.8,1012.8 L1082.6,1031.1 L1084.5,1051.1 L1086.5,1073.1 L1088.4,1097 L1090.5,1123 L1092.6,1151.2 L1094.7,1181.8 L1096.9,1214.7 L1099.1,1250.1 L1101.4,1288.2 L1103.7,1329 L1106,1372.6 L1108.4,1419.2 L1110.9,1468.8 L1113.3,1521.5 L1115.9,1577.6" stroke="#6b89c1" stroke-linecap="round"/>
<path d="M1057,877.5 L1057.2,877.6 L1057.6,877.9 L1058.1,878.2 L1058.7,878.6 L1059.4,879.2 L1060.2,879.8 L1061.1,880.5 L1062.1,881.2 L1063.1,882.1 L1064.3,883.1 L1065.5,884.2 L1066.7,885.4 L1068,886.7 L1069.4,888.2 L1070.9,889.8 L1072.4,891.5 L1074,893.4 L1075.6,895.5 L1077.3,897.8 L1079,900.2 L1080.8,902.8 L1082.6,905.7 L1084.5,908.7 L1086.5,912 L1088.4,915.6 L1090.5,919.4 L1092.6,923.5 L1094.7,927.8 L1096.9,932.4 L1099.1,937.4 L1101.4,942.7 L1103.7,948.3 L1106,954.2 L1108.4,960.5 L1110.9,967.2 L1113.3,974.3 L1115.9,981.8 L1118.4,989.7 L1121,998 L1123.7,1006.7 L1126.4,1015.9 L1129.1,1025.6 L1131.9,1035.8 L1134.7,1046.5 L1137.5,1057.7 L1140.4,1069.4 L1143.3,1081.6 L1146.3,1094.5 L1149.3,1107.8 L1152.3,1121.8 L1155.4,1136.4 L1158.5,1151.6 L1161.6,1167.4 L1164.8,1183.9 L1168,1201 L1171.3,1218.8 L1174.5,1237.4 L1177.9,1256.6 L1181.2,1276.5 L1184.6,1297.2 L1188,1318.6 L1191.5,1340.8 L1195,1363.8 L1198.5,1387.5 L1202,1412.1 L1205.6,1437.5 L1209.2,1463.8 L1212.9,1490.9 L1216.6,1518.9 L1220.3,1547.8" stroke="#e69f00" stroke-width="4.9" stroke-dasharray="3.4 10.03" stroke-linecap="round"/>
<path d="M1057,877.5 L1057.2,877.7 L1057.6,878 L1058.1,878.5 L1058.7,879.1 L1059.4,879.9 L1060.2,880.8 L1061.1,881.8 L1062.1,883 L1063.1,884.4 L1064.3,885.9 L1065.5,887.7 L1066.7,889.6 L1068,891.8 L1069.4,894.2 L1070.9,896.9 L1072.4,899.9 L1074,903.1 L1075.6,906.7 L1077.3,910.7 L1079,915 L1080.8,919.7 L1082.6,924.8 L1084.5,930.4 L1086.5,936.4 L1088.4,942.9 L1090.5,950 L1092.6,957.5 L1094.7,965.7 L1096.9,974.4 L1099.1,983.7 L1101.4,993.7 L1103.7,1004.4 L1106,1015.8 L1108.4,1027.9 L1110.9,1040.7 L1113.3,1054.3 L1115.9,1068.8 L1118.4,1084 L1121,1100.2 L1123.7,1117.2 L1126.4,1135.2 L1129.1,1154.1 L1131.9,1173.9 L1134.7,1194.8 L1137.5,1216.7 L1140.4,1239.7 L1143.3,1263.8 L1146.3,1289 L1149.3,1315.4 L1152.3,1342.9 L1155.4,1371.6 L1158.5,1401.6 L1161.6,1432.9 L1164.8,1465.4 L1168,1499.3 L1171.3,1534.5" stroke="#e69f00" stroke-linecap="round"/>
<path d="M1057,875.8 L1057.2,875.9 L1057.6,876.1 L1058.1,876.3 L1058.7,876.6 L1059.4,876.9 L1060.2,877.3 L1061.1,877.7 L1062.1,878.2 L1063.1,878.8 L1064.3,879.4 L1065.5,880 L1066.7,880.7 L1068,881.5 L1069.4,882.4 L1070.9,883.3 L1072.4,884.3 L1074,885.3 L1075.6,886.5 L1077.3,887.7 L1079,889 L1080.8,890.4 L1082.6,891.9 L1084.5,893.5 L1086.5,895.2 L1088.4,897 L1090.5,899 L1092.6,901 L1094.7,903.2 L1096.9,905.5 L1099.1,908 L1101.4,910.6 L1103.7,913.3 L1106,916.2 L1108.4,919.3 L1110.9,922.5 L1113.3,925.9 L1115.9,929.4 L1118.4,933.2 L1121,937.1 L1123.7,941.2 L1126.4,945.6 L1129.1,950.1 L1131.9,954.9 L1134.7,959.8 L1137.5,965 L1140.4,970.5 L1143.3,976.1 L1146.3,982.1 L1149.3,988.2 L1152.3,994.7 L1155.4,1001.3 L1158.5,1008.3 L1161.6,1015.6 L1164.8,1023.1 L1168,1030.9 L1171.3,1039 L1174.5,1047.4 L1177.9,1056.2 L1181.2,1065.2 L1184.6,1074.6 L1188,1084.3 L1191.5,1094.4 L1195,1104.8 L1198.5,1115.5 L1202,1126.6 L1205.6,1138.1 L1209.2,1149.9 L1212.9,1162.2 L1216.6,1174.8 L1220.3,1187.8 L1224,1201.2 L1227.8,1215 L1231.6,1229.3 L1235.5,1243.9 L1239.3,1259 L1243.3,1274.6 L1247.2,1290.5 L1251.2,1306.9 L1255.2,1323.8 L1259.2,1341.2 L1263.2,1359 L1267.3,1377.3 L1271.4,1396.1 L1275.6,1415.4 L1279.8,1435.1 L1284,1455.4 L1288.2,1476.2 L1292.5,1497.6 L1296.8,1519.4 L1301.1,1541.8" stroke="#9ab91f" stroke-width="4.9" stroke-dasharray="3.4 10.03" stroke-linecap="round"/>
<path d="M1057,875.8 L1057.2,875.9 L1057.6,876.2 L1058.1,876.5 L1058.7,876.9 L1059.4,877.4 L1060.2,877.9 L1061.1,878.6 L1062.1,879.3 L1063.1,880.1 L1064.3,881.1 L1065.5,882.1 L1066.7,883.2 L1068,884.4 L1069.4,885.8 L1070.9,887.2 L1072.4,888.8 L1074,890.6 L1075.6,892.5 L1077.3,894.5 L1079,896.7 L1080.8,899.1 L1082.6,901.7 L1084.5,904.5 L1086.5,907.5 L1088.4,910.7 L1090.5,914.1 L1092.6,917.8 L1094.7,921.7 L1096.9,925.9 L1099.1,930.4 L1101.4,935.1 L1103.7,940.1 L1106,945.5 L1108.4,951.2 L1110.9,957.1 L1113.3,963.5 L1115.9,970.2 L1118.4,977.2 L1121,984.7 L1123.7,992.5 L1126.4,1000.8 L1129.1,1009.4 L1131.9,1018.5 L1134.7,1028.1 L1137.5,1038.1 L1140.4,1048.5 L1143.3,1059.5 L1146.3,1070.9 L1149.3,1082.8 L1152.3,1095.3 L1155.4,1108.3 L1158.5,1121.9 L1161.6,1136 L1164.8,1150.7 L1168,1165.9 L1171.3,1181.8 L1174.5,1198.3 L1177.9,1215.4 L1181.2,1233.2 L1184.6,1251.6 L1188,1270.7 L1191.5,1290.4 L1195,1310.9 L1198.5,1332.1 L1202,1354 L1205.6,1376.6 L1209.2,1400 L1212.9,1424.1 L1216.6,1449 L1220.3,1474.8 L1224,1501.3 L1227.8,1528.6" stroke="#9ab91f" stroke-linecap="round"/>
<path d="M1057,873.6 L1057.2,873.6 L1057.6,873.7 L1058.1,873.8 L1058.7,873.9 L1059.4,874.1 L1060.2,874.2 L1061.1,874.4 L1062.1,874.6 L1063.1,874.8 L1064.3,875 L1065.5,875.3 L1066.7,875.6 L1068,875.8 L1069.4,876.1 L1070.9,876.5 L1072.4,876.8 L1074,877.2 L1075.6,877.5 L1077.3,877.9 L1079,878.4 L1080.8,878.8 L1082.6,879.3 L1084.5,879.8 L1086.5,880.3 L1088.4,880.8 L1090.5,881.4 L1092.6,882 L1094.7,882.6 L1096.9,883.2 L1099.1,883.9 L1101.4,884.6 L1103.7,885.3 L1106,886 L1108.4,886.8 L1110.9,887.6 L1113.3,888.5 L1115.9,889.4 L1118.4,890.3 L1121,891.3 L1123.7,892.2 L1126.4,893.3 L1129.1,894.3 L1131.9,895.4 L1134.7,896.6 L1137.5,897.8 L1140.4,899 L1143.3,900.3 L1146.3,901.6 L1149.3,903 L1152.3,904.4 L1155.4,905.9 L1158.5,907.4 L1161.6,908.9 L1164.8,910.5 L1168,912.2 L1171.3,913.9 L1174.5,915.7 L1177.9,917.5 L1181.2,919.4 L1184.6,921.4 L1188,923.4 L1191.5,925.4 L1195,927.6 L1198.5,929.8 L1202,932 L1205.6,934.4 L1209.2,936.8 L1212.9,939.2 L1216.6,941.7 L1220.3,944.3 L1224,947 L1227.8,949.8 L1231.6,952.6 L1235.5,955.5 L1239.3,958.5 L1243.3,961.5 L1247.2,964.7 L1251.2,967.9 L1255.2,971.2 L1259.2,974.6 L1263.2,978 L1267.3,981.6 L1271.4,985.2 L1275.6,989 L1279.8,992.8 L1284,996.7 L1288.2,1000.7 L1292.5,1004.8 L1296.8,1009 L1301.1,1013.3 L1305.5,1017.7 L1309.8,1022.2 L1314.3,1026.8 L1318.7,1031.5 L1323.2,1036.3 L1327.7,1041.2 L1332.2,1046.3 L1336.7,1051.4 L1341.3,1056.6 L1345.9,1062 L1350.6,1067.4 L1355.2,1073 L1359.9,1078.7 L1364.6,1084.5 L1369.4,1090.4 L1374.2,1096.5 L1379,1102.7 L1383.8,1108.9 L1388.7,1115.4 L1393.5,1121.9 L1398.4,1128.6 L1403.4,1135.3 L1408.3,1142.3 L1413.3,1149.3 L1418.3,1156.5 L1423.4,1163.8 L1428.4,1171.3 L1433.5,1178.9 L1438.7,1186.6 L1443.8,1194.5 L1449,1202.5 L1454.2,1210.6 L1459.4,1218.9 L1464.6,1227.3 L1469.9,1235.9 L1475.2,1244.7 L1480.5,1253.6 L1485.9,1262.6 L1491.3,1271.8 L1496.6,1281.1 L1502.1,1290.6 L1507.5,1300.3 L1513,1310.1 L1518.5,1320 L1524,1330.2 L1529.6,1340.5 L1535.1,1350.9 L1540.7,1361.6 L1546.4,1372.3 L1552,1383.3 L1557.7,1394.4 L1563.4,1405.7 L1569.1,1417.2 L1574.8,1428.9 L1580.6,1440.7 L1586.4,1452.7 L1592.2,1464.9 L1598,1477.2 L1603.9,1489.8 L1609.8,1502.5 L1615.7,1515.4 L1621.6,1528.5" stroke="#e85c26" stroke-width="4.9" stroke-dasharray="3.4 10.03" stroke-linecap="round"/>
<path d="M1057,873.6 L1057.2,873.7 L1057.6,873.8 L1058.1,873.9 L1058.7,874.1 L1059.4,874.3 L1060.2,874.5 L1061.1,874.7 L1062.1,875 L1063.1,875.3 L1064.3,875.7 L1065.5,876 L1066.7,876.4 L1068,876.9 L1069.4,877.3 L1070.9,877.8 L1072.4,878.3 L1074,878.9 L1075.6,879.4 L1077.3,880.1 L1079,880.7 L1080.8,881.4 L1082.6,882.1 L1084.5,882.9 L1086.5,883.7 L1088.4,884.6 L1090.5,885.5 L1092.6,886.5 L1094.7,887.5 L1096.9,888.5 L1099.1,889.6 L1101.4,890.8 L1103.7,892 L1106,893.3 L1108.4,894.6 L1110.9,896 L1113.3,897.4 L1115.9,899 L1118.4,900.5 L1121,902.2 L1123.7,903.9 L1126.4,905.7 L1129.1,907.6 L1131.9,909.6 L1134.7,911.6 L1137.5,913.7 L1140.4,915.9 L1143.3,918.2 L1146.3,920.6 L1149.3,923.1 L1152.3,925.6 L1155.4,928.3 L1158.5,931.1 L1161.6,933.9 L1164.8,936.9 L1168,940 L1171.3,943.2 L1174.5,946.4 L1177.9,949.9 L1181.2,953.4 L1184.6,957 L1188,960.8 L1191.5,964.7 L1195,968.7 L1198.5,972.8 L1202,977.1 L1205.6,981.5 L1209.2,986 L1212.9,990.7 L1216.6,995.5 L1220.3,1000.4 L1224,1005.5 L1227.8,1010.8 L1231.6,1016.2 L1235.5,1021.8 L1239.3,1027.5 L1243.3,1033.3 L1247.2,1039.4 L1251.2,1045.6 L1255.2,1051.9 L1259.2,1058.5 L1263.2,1065.2 L1267.3,1072.1 L1271.4,1079.1 L1275.6,1086.4 L1279.8,1093.8 L1284,1101.4 L1288.2,1109.2 L1292.5,1117.2 L1296.8,1125.4 L1301.1,1133.8 L1305.5,1142.3 L1309.8,1151.1 L1314.3,1160.1 L1318.7,1169.3 L1323.2,1178.7 L1327.7,1188.3 L1332.2,1198.1 L1336.7,1208.2 L1341.3,1218.4 L1345.9,1228.9 L1350.6,1239.7 L1355.2,1250.6 L1359.9,1261.8 L1364.6,1273.2 L1369.4,1284.8 L1374.2,1296.7 L1379,1308.9 L1383.8,1321.3 L1388.7,1333.9 L1393.5,1346.8 L1398.4,1359.9 L1403.4,1373.3 L1408.3,1387 L1413.3,1400.9 L1418.3,1415.1 L1423.4,1429.5 L1428.4,1444.2 L1433.5,1459.2 L1438.7,1474.5 L1443.8,1490.1 L1449,1505.9 L1454.2,1522 L1459.4,1538.4" stroke="#e85c26" stroke-linecap="round"/>
</g>
<path d="M1044.5,871.7L1050.5,871.7M1681.9,871.7L1675.9,871.7M1044.5,904.6L1050.5,904.6M1681.9,904.6L1675.9,904.6M1044.5,937.5L1056.7,937.5M1681.9,937.5L1669.7,937.5M1044.5,970.3L1050.5,970.3M1681.9,970.3L1675.9,970.3M1044.5,1003.2L1050.5,1003.2M1681.9,1003.2L1675.9,1003.2M1044.5,1036.1L1050.5,1036.1M1681.9,1036.1L1675.9,1036.1M1044.5,1069L1056.7,1069M1681.9,1069L1669.7,1069M1044.5,1101.9L1050.5,1101.9M1681.9,1101.9L1675.9,1101.9M1044.5,1134.7L1050.5,1134.7M1681.9,1134.7L1675.9,1134.7M1044.5,1167.6L1050.5,1167.6M1681.9,1167.6L1675.9,1167.6M1044.5,1200.5L1056.7,1200.5M1681.9,1200.5L1669.7,1200.5M1044.5,1233.4L1050.5,1233.4M1681.9,1233.4L1675.9,1233.4M1044.5,1266.3L1050.5,1266.3M1681.9,1266.3L1675.9,1266.3M1044.5,1299.1L1050.5,1299.1M1681.9,1299.1L1675.9,1299.1M1044.5,1332L1056.7,1332M1681.9,1332L1669.7,1332M1044.5,1364.9L1050.5,1364.9M1681.9,1364.9L1675.9,1364.9M1044.5,1397.8L1050.5,1397.8M1681.9,1397.8L1675.9,1397.8M1044.5,1430.7L1050.5,1430.7M1681.9,1430.7L1675.9,1430.7M1044.5,1463.5L1056.7,1463.5M1681.9,1463.5L1669.7,1463.5M1057,848.5L1057,860.7M1057,1486.3L1057,1474.1M1118.5,848.5L1118.5,854.5M1118.5,1486.3L1118.5,1480.3M1154.5,848.5L1154.5,854.5M1154.5,1486.3L1154.5,1480.3M1180,848.5L1180,854.5M1180,1486.3L1180,1480.3M1199.8,848.5L1199.8,854.5M1199.8,1486.3L1199.8,1480.3M1216,848.5L1216,854.5M1216,1486.3L1216,1480.3M1229.7,848.5L1229.7,854.5M1229.7,1486.3L1229.7,1480.3M1241.5,848.5L1241.5,854.5M1241.5,1486.3L1241.5,1480.3M1252,848.5L1252,854.5M1252,1486.3L1252,1480.3M1261.3,848.5L1261.3,860.7M1261.3,1486.3L1261.3,1474.1M1322.8,848.5L1322.8,854.5M1322.8,1486.3L1322.8,1480.3M1358.8,848.5L1358.8,854.5M1358.8,1486.3L1358.8,1480.3M1384.3,848.5L1384.3,854.5M1384.3,1486.3L1384.3,1480.3M1404.1,848.5L1404.1,854.5M1404.1,1486.3L1404.1,1480.3M1420.3,848.5L1420.3,854.5M1420.3,1486.3L1420.3,1480.3M1434,848.5L1434,854.5M1434,1486.3L1434,1480.3M1445.8,848.5L1445.8,854.5M1445.8,1486.3L1445.8,1480.3M1456.3,848.5L1456.3,854.5M1456.3,1486.3L1456.3,1480.3M1465.6,848.5L1465.6,860.7M1465.6,1486.3L1465.6,1474.1M1527.1,848.5L1527.1,854.5M1527.1,1486.3L1527.1,1480.3M1563.1,848.5L1563.1,854.5M1563.1,1486.3L1563.1,1480.3M1588.6,848.5L1588.6,854.5M1588.6,1486.3L1588.6,1480.3M1608.4,848.5L1608.4,854.5M1608.4,1486.3L1608.4,1480.3M1624.6,848.5L1624.6,854.5M1624.6,1486.3L1624.6,1480.3M1638.3,848.5L1638.3,854.5M1638.3,1486.3L1638.3,1480.3M1650.1,848.5L1650.1,854.5M1650.1,1486.3L1650.1,1480.3M1660.6,848.5L1660.6,854.5M1660.6,1486.3L1660.6,1480.3M1669.9,848.5L1669.9,860.7M1669.9,1486.3L1669.9,1474.1" stroke="#141414" stroke-width="2.7" fill="none"/>
<rect x="1044.5" y="848.5" width="637.4" height="637.8" fill="none" stroke="#141414" stroke-width="2.8"/>
<text transform="translate(939.2,965.5) scale(0.955,1)" font-family='"Liberation Sans", sans-serif' font-size="50" fill="#141414" stroke="#fff" stroke-width="1.0">1<tspan dx="-1.6">0</tspan><tspan dx="-1.5 -2.6" dy="-17" font-size="28.5" stroke-width="0.3">−2</tspan></text>
<text transform="translate(939.2,1097) scale(0.955,1)" font-family='"Liberation Sans", sans-serif' font-size="50" fill="#141414" stroke="#fff" stroke-width="1.0">1<tspan dx="-1.6">0</tspan><tspan dx="-1.5 -2.6" dy="-17" font-size="28.5" stroke-width="0.3">−6</tspan></text>
<text transform="translate(939.2,1228.5) scale(0.955,1)" font-family='"Liberation Sans", sans-serif' font-size="50" fill="#141414" stroke="#fff" stroke-width="1.0">1<tspan dx="-1.6">0</tspan><tspan dx="-1.5 -2.6" dy="-17" font-size="28.5" stroke-width="0.3">−10</tspan></text>
<text transform="translate(939.2,1360) scale(0.955,1)" font-family='"Liberation Sans", sans-serif' font-size="50" fill="#141414" stroke="#fff" stroke-width="1.0">1<tspan dx="-1.6">0</tspan><tspan dx="-1.5 -2.6" dy="-17" font-size="28.5" stroke-width="0.3">−14</tspan></text>
<text transform="translate(939.2,1491.5) scale(0.955,1)" font-family='"Liberation Sans", sans-serif' font-size="50" fill="#141414" stroke="#fff" stroke-width="1.0">1<tspan dx="-1.6">0</tspan><tspan dx="-1.5 -2.6" dy="-17" font-size="28.5" stroke-width="0.3">−18</tspan></text>
<text x="1056.5" y="1532.4" text-anchor="middle" font-family='"Liberation Sans", sans-serif' font-size="48" fill="#141414" stroke="#fff" stroke-width="1.0">1</text>
<text x="1260.8" y="1532.4" text-anchor="middle" font-family='"Liberation Sans", sans-serif' font-size="48" fill="#141414" stroke="#fff" stroke-width="1.0">10</text>
<text x="1465.1" y="1532.4" text-anchor="middle" font-family='"Liberation Sans", sans-serif' font-size="48" fill="#141414" stroke="#fff" stroke-width="1.0">100</text>
<text x="1669.4" y="1532.4" text-anchor="middle" font-family='"Liberation Sans", sans-serif' font-size="48" fill="#141414" stroke="#fff" stroke-width="1.0">1,000</text>
<text transform="translate(942.8,849) scale(1.079,1)" font-family='"Liberation Sans", sans-serif' font-weight="bold" font-size="46" fill="#141414">d</text>
<text transform="translate(1230.9,1581.5) scale(0.928,1)" font-family='"Liberation Sans", sans-serif' font-size="47.5" fill="#141414" stroke="#fff" stroke-width="0.8">ON/OFF ratio</text>
<g transform="translate(923.1,1355.7) rotate(-90)" fill="#141414">
<text font-family='"Liberation Sans", sans-serif'><tspan x="-4" y="0.4" font-size="47.5" textLength="370.811" lengthAdjust="spacingAndGlyphs" stroke="#fff" stroke-width="0.8">Bit error probability</tspan> <tspan font-family='"Liberation Serif", serif'><tspan x="378.2" y="4.2" font-size="52" textLength="32.164" lengthAdjust="spacingAndGlyphs">Φ</tspan></tspan></text>
</g>
<circle cx="1261.2" cy="978.4" r="6.85" fill="#e85c26" stroke="#141414" stroke-width="1.9"/>
<path d="M1262.2,1056.9 L1264.6,1062.9 L1271,1063.3 L1266.1,1067.5 L1267.7,1073.7 L1262.2,1070.3 L1256.7,1073.7 L1258.3,1067.5 L1253.4,1063.3 L1259.8,1062.9Z" fill="#e85c26" stroke="#141414" stroke-width="1.8" stroke-linejoin="miter"/>
<g transform="translate(1084.6,1400.7) rotate(90.6)" fill="#0060a8">
<text font-family='"Liberation Serif", serif'><tspan x="-54.9" y="11.5" font-size="43" font-style="italic" textLength="26.014" lengthAdjust="spacingAndGlyphs">n</tspan> <tspan x="-17.6" y="13.9" font-size="42" textLength="35.147" lengthAdjust="spacingAndGlyphs">=</tspan> <tspan x="29.2" y="11.5" font-size="44">2</tspan></text>
</g>
<g transform="translate(1178,1400.3) rotate(84.2)" fill="#d8761e">
<text font-family='"Liberation Serif", serif'><tspan x="-54.9" y="11.5" font-size="43" font-style="italic" textLength="26.014" lengthAdjust="spacingAndGlyphs">n</tspan> <tspan x="-17.6" y="13.9" font-size="42" textLength="35.147" lengthAdjust="spacingAndGlyphs">=</tspan> <tspan x="28.8" y="11.5" font-size="44">3</tspan></text>
</g>
<g transform="translate(1239.8,1391.8) rotate(78)" fill="#46a02e">
<text font-family='"Liberation Serif", serif'><tspan x="-54.9" y="11.5" font-size="43" font-style="italic" textLength="26.014" lengthAdjust="spacingAndGlyphs">n</tspan> <tspan x="-17.6" y="13.9" font-size="42" textLength="35.147" lengthAdjust="spacingAndGlyphs">=</tspan> <tspan x="28.9" y="11.5" font-size="44">4</tspan></text>
</g>
<g transform="translate(1425.8,1273.5) rotate(60.7)" fill="#dc2418">
<text font-family='"Liberation Serif", serif'><tspan x="-54.9" y="11.5" font-size="43" font-style="italic" textLength="26.014" lengthAdjust="spacingAndGlyphs">n</tspan> <tspan x="-17.6" y="13.9" font-size="42" textLength="35.147" lengthAdjust="spacingAndGlyphs">=</tspan> <tspan x="29" y="11.5" font-size="44">8</tspan></text>
</g>
<text font-family='"Liberation Serif", serif' fill="#141414"><tspan x="1476.9" y="979.9" font-size="49.5" textLength="33.255" lengthAdjust="spacingAndGlyphs">Φ</tspan><tspan x="1511.7" y="987.5" font-size="33" textLength="45.288" lengthAdjust="spacingAndGlyphs">Re</tspan></text>
<path d="M1610.1,972.2h33.7" stroke="#141414" stroke-width="5.8" stroke-linecap="round" stroke-dasharray="0.8 10.25" fill="none"/>
<text font-family='"Liberation Serif", serif' fill="#141414"><tspan x="1476.9" y="1039.2" font-size="49.5" textLength="33.255" lengthAdjust="spacingAndGlyphs">Φ</tspan><tspan x="1511.7" y="1046.8" font-size="33" textLength="92.661" lengthAdjust="spacingAndGlyphs">Ratio</tspan></text>
<path d="M1610.1,1032h33.8" stroke="#141414" stroke-width="5.9" stroke-linecap="round" fill="none"/>
<text font-family='"Liberation Serif", serif' fill="#141414"><tspan x="1482.2" y="908.8" font-size="41" font-style="italic" textLength="24.204" lengthAdjust="spacingAndGlyphs">σ</tspan><tspan x="1511.1" y="899.9" font-size="33.5">*</tspan> <tspan x="1543.7" y="911" font-size="42" textLength="37.207" lengthAdjust="spacingAndGlyphs">=</tspan> <tspan x="1592.4" y="908.8" font-size="45.3" textLength="61.562" lengthAdjust="spacingAndGlyphs">5%</tspan></text>
</svg>
</body></html>
